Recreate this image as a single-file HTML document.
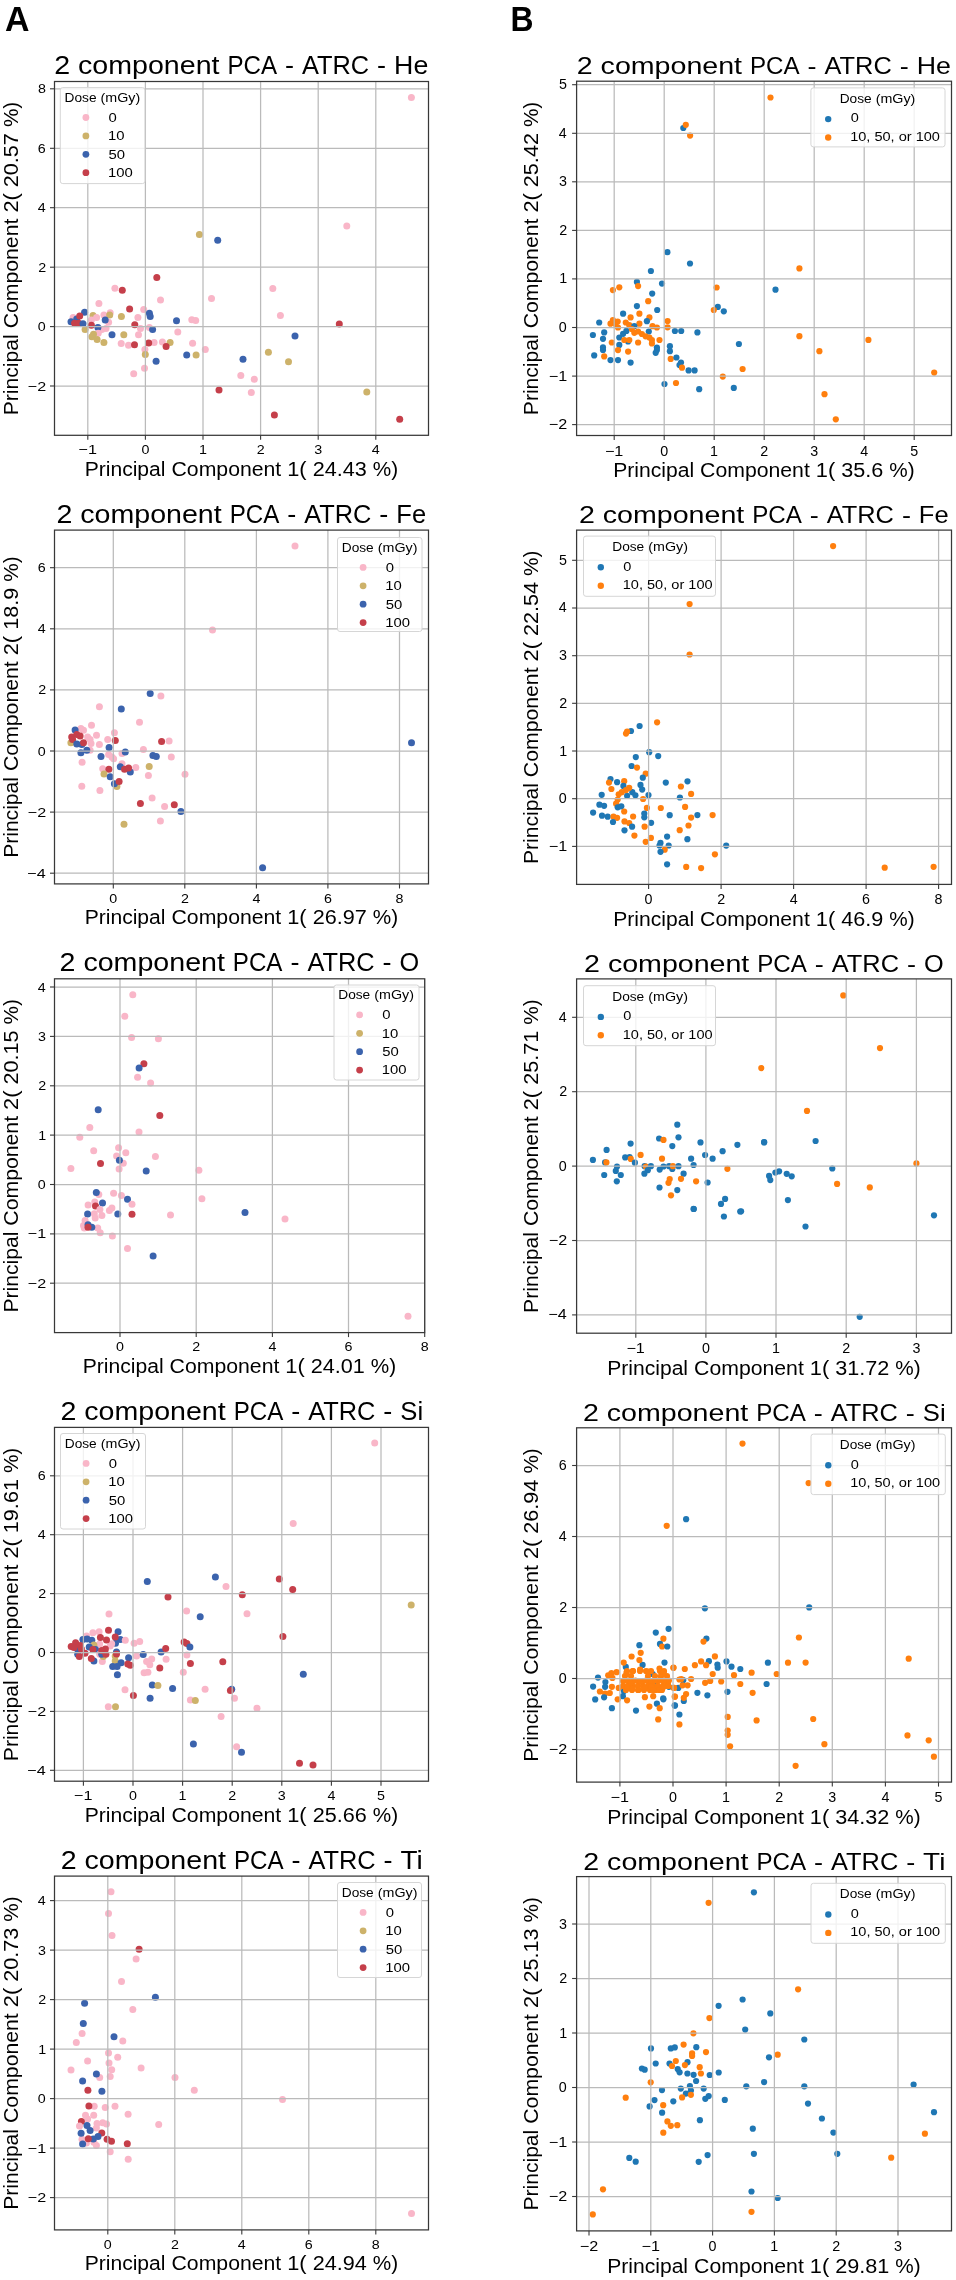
<!DOCTYPE html><html><head><meta charset="utf-8"><style>html,body{margin:0;padding:0;background:#fff;}svg{display:block;will-change:transform;}text{font-family:"Liberation Sans", sans-serif;fill:#000;}</style></head><body>
<svg width="956" height="2280" viewBox="0 0 956 2280">
<rect x="0" y="0" width="956" height="2280" fill="#fff"/>
<text x="5.0" y="31.0" textLength="24.5" lengthAdjust="spacingAndGlyphs" style="font-weight:bold;font-size:35px">A</text>
<text x="510.5" y="31.0" textLength="23.0" lengthAdjust="spacingAndGlyphs" style="font-weight:bold;font-size:35px">B</text>
<g><circle cx="98.9" cy="303.4" r="3.5" fill="#f9b6c8"/><circle cx="129.6" cy="308.9" r="3.5" fill="#c53f4a"/><circle cx="143.7" cy="309.6" r="3.5" fill="#f9b6c8"/><circle cx="84.6" cy="312.3" r="3.5" fill="#3b63ad"/><circle cx="73.1" cy="317.5" r="3.5" fill="#f9b6c8"/><circle cx="76.7" cy="319.0" r="3.5" fill="#3b63ad"/><circle cx="79.7" cy="315.9" r="3.5" fill="#c53f4a"/><circle cx="93.0" cy="315.4" r="3.5" fill="#cdb26a"/><circle cx="96.6" cy="317.5" r="3.5" fill="#f9b6c8"/><circle cx="103.9" cy="314.9" r="3.5" fill="#f9b6c8"/><circle cx="110.2" cy="312.8" r="3.5" fill="#f9b6c8"/><circle cx="109.7" cy="315.1" r="3.5" fill="#cdb26a"/><circle cx="121.4" cy="316.4" r="3.5" fill="#cdb26a"/><circle cx="137.9" cy="317.5" r="3.5" fill="#f9b6c8"/><circle cx="149.4" cy="313.3" r="3.5" fill="#3b63ad"/><circle cx="150.2" cy="316.4" r="3.5" fill="#3b63ad"/><circle cx="108.6" cy="322.2" r="3.5" fill="#f9b6c8"/><circle cx="91.4" cy="320.1" r="3.5" fill="#f9b6c8"/><circle cx="105.2" cy="320.1" r="3.5" fill="#3b63ad"/><circle cx="71.0" cy="321.7" r="3.5" fill="#3b63ad"/><circle cx="74.6" cy="323.2" r="3.5" fill="#c53f4a"/><circle cx="78.8" cy="323.2" r="3.5" fill="#c53f4a"/><circle cx="83.0" cy="323.8" r="3.5" fill="#3b63ad"/><circle cx="91.4" cy="325.3" r="3.5" fill="#c53f4a"/><circle cx="101.8" cy="329.5" r="3.5" fill="#f9b6c8"/><circle cx="106.0" cy="328.5" r="3.5" fill="#f9b6c8"/><circle cx="97.9" cy="327.4" r="3.5" fill="#3b63ad"/><circle cx="134.8" cy="324.8" r="3.5" fill="#c53f4a"/><circle cx="140.5" cy="328.5" r="3.5" fill="#f9b6c8"/><circle cx="149.4" cy="327.4" r="3.5" fill="#f9b6c8"/><circle cx="152.6" cy="329.5" r="3.5" fill="#3b63ad"/><circle cx="85.1" cy="329.5" r="3.5" fill="#cdb26a"/><circle cx="98.2" cy="333.2" r="3.5" fill="#f9b6c8"/><circle cx="93.5" cy="334.2" r="3.5" fill="#cdb26a"/><circle cx="91.9" cy="336.8" r="3.5" fill="#cdb26a"/><circle cx="97.1" cy="339.5" r="3.5" fill="#cdb26a"/><circle cx="103.9" cy="342.6" r="3.5" fill="#cdb26a"/><circle cx="112.0" cy="334.7" r="3.5" fill="#3b63ad"/><circle cx="123.8" cy="334.7" r="3.5" fill="#cdb26a"/><circle cx="138.5" cy="334.7" r="3.5" fill="#f9b6c8"/><circle cx="121.2" cy="343.6" r="3.5" fill="#f9b6c8"/><circle cx="128.5" cy="345.2" r="3.5" fill="#f9b6c8"/><circle cx="134.5" cy="344.7" r="3.5" fill="#c53f4a"/><circle cx="154.1" cy="342.6" r="3.5" fill="#f9b6c8"/><circle cx="148.7" cy="342.9" r="3.5" fill="#c53f4a"/><circle cx="144.9" cy="349.4" r="3.5" fill="#f9b6c8"/><circle cx="145.3" cy="354.5" r="3.5" fill="#cdb26a"/><circle cx="160.5" cy="299.9" r="3.5" fill="#f9b6c8"/><circle cx="156.8" cy="277.6" r="3.5" fill="#c53f4a"/><circle cx="114.9" cy="288.2" r="3.5" fill="#f9b6c8"/><circle cx="122.3" cy="290.2" r="3.5" fill="#c53f4a"/><circle cx="211.5" cy="298.5" r="3.5" fill="#f9b6c8"/><circle cx="176.5" cy="320.8" r="3.5" fill="#3b63ad"/><circle cx="191.8" cy="319.8" r="3.5" fill="#f9b6c8"/><circle cx="195.7" cy="320.6" r="3.5" fill="#f9b6c8"/><circle cx="177.8" cy="332.0" r="3.5" fill="#f9b6c8"/><circle cx="162.4" cy="342.1" r="3.5" fill="#f9b6c8"/><circle cx="170.1" cy="342.6" r="3.5" fill="#cdb26a"/><circle cx="166.1" cy="346.4" r="3.5" fill="#c53f4a"/><circle cx="192.6" cy="343.2" r="3.5" fill="#f9b6c8"/><circle cx="205.3" cy="349.6" r="3.5" fill="#f9b6c8"/><circle cx="156.1" cy="361.3" r="3.5" fill="#3b63ad"/><circle cx="186.7" cy="354.9" r="3.5" fill="#3b63ad"/><circle cx="196.1" cy="354.9" r="3.5" fill="#cdb26a"/><circle cx="144.5" cy="368.3" r="3.5" fill="#f9b6c8"/><circle cx="133.7" cy="373.8" r="3.5" fill="#f9b6c8"/><circle cx="411.4" cy="97.5" r="3.5" fill="#f9b6c8"/><circle cx="346.8" cy="225.9" r="3.5" fill="#f9b6c8"/><circle cx="199.4" cy="234.5" r="3.5" fill="#cdb26a"/><circle cx="217.7" cy="240.3" r="3.5" fill="#3b63ad"/><circle cx="272.8" cy="288.4" r="3.5" fill="#f9b6c8"/><circle cx="280.4" cy="315.4" r="3.5" fill="#f9b6c8"/><circle cx="339.3" cy="324.0" r="3.5" fill="#c53f4a"/><circle cx="295.0" cy="335.9" r="3.5" fill="#3b63ad"/><circle cx="268.4" cy="352.2" r="3.5" fill="#cdb26a"/><circle cx="243.0" cy="359.3" r="3.5" fill="#3b63ad"/><circle cx="288.5" cy="361.8" r="3.5" fill="#cdb26a"/><circle cx="240.8" cy="375.6" r="3.5" fill="#f9b6c8"/><circle cx="254.3" cy="379.3" r="3.5" fill="#f9b6c8"/><circle cx="251.3" cy="392.4" r="3.5" fill="#f9b6c8"/><circle cx="366.8" cy="391.9" r="3.5" fill="#cdb26a"/><circle cx="274.4" cy="415.0" r="3.5" fill="#c53f4a"/><circle cx="399.7" cy="419.3" r="3.5" fill="#c53f4a"/><circle cx="219.0" cy="390.0" r="3.5" fill="#c53f4a"/></g>
<g stroke="#bababa" stroke-width="1.25"><line x1="87.8" y1="81.5" x2="87.8" y2="435.3"/><line x1="145.4" y1="81.5" x2="145.4" y2="435.3"/><line x1="203.0" y1="81.5" x2="203.0" y2="435.3"/><line x1="260.6" y1="81.5" x2="260.6" y2="435.3"/><line x1="318.2" y1="81.5" x2="318.2" y2="435.3"/><line x1="375.8" y1="81.5" x2="375.8" y2="435.3"/><line x1="54.5" y1="88.8" x2="428.5" y2="88.8"/><line x1="54.5" y1="148.3" x2="428.5" y2="148.3"/><line x1="54.5" y1="207.7" x2="428.5" y2="207.7"/><line x1="54.5" y1="267.2" x2="428.5" y2="267.2"/><line x1="54.5" y1="326.6" x2="428.5" y2="326.6"/><line x1="54.5" y1="386.0" x2="428.5" y2="386.0"/></g>
<rect x="60.3" y="87.6" width="84.6" height="96.0" rx="2.5" fill="#fff" fill-opacity="0.8" stroke="#d6d6d6" stroke-width="1"/>
<g style="font-size:13.60px;"><text x="64.55" y="102.00" textLength="31.98" lengthAdjust="spacingAndGlyphs">Dose</text><text x="100.57" y="102.00" textLength="39.64" lengthAdjust="spacingAndGlyphs">(mGy)</text></g>
<circle cx="85.9" cy="117.5" r="3.4" fill="#f9b6c8"/>
<g style="font-size:13.60px;"><text x="108.64" y="121.80" textLength="8.27" lengthAdjust="spacingAndGlyphs">0</text></g>
<circle cx="85.9" cy="135.9" r="3.4" fill="#cdb26a"/>
<g style="font-size:13.60px;"><text x="108.07" y="140.20" textLength="16.54" lengthAdjust="spacingAndGlyphs">10</text></g>
<circle cx="85.9" cy="154.3" r="3.4" fill="#3b63ad"/>
<g style="font-size:13.60px;"><text x="108.50" y="158.60" textLength="16.54" lengthAdjust="spacingAndGlyphs">50</text></g>
<circle cx="85.9" cy="172.7" r="3.4" fill="#c53f4a"/>
<g style="font-size:13.60px;"><text x="108.07" y="177.00" textLength="24.81" lengthAdjust="spacingAndGlyphs">100</text></g>
<rect x="54.5" y="81.5" width="374.0" height="353.8" fill="none" stroke="#383838" stroke-width="1.25"/>
<g stroke="#383838" stroke-width="1.1"><line x1="87.8" y1="435.3" x2="87.8" y2="439.8"/><line x1="145.4" y1="435.3" x2="145.4" y2="439.8"/><line x1="203.0" y1="435.3" x2="203.0" y2="439.8"/><line x1="260.6" y1="435.3" x2="260.6" y2="439.8"/><line x1="318.2" y1="435.3" x2="318.2" y2="439.8"/><line x1="375.8" y1="435.3" x2="375.8" y2="439.8"/><line x1="50.0" y1="88.8" x2="54.5" y2="88.8"/><line x1="50.0" y1="148.3" x2="54.5" y2="148.3"/><line x1="50.0" y1="207.7" x2="54.5" y2="207.7"/><line x1="50.0" y1="267.2" x2="54.5" y2="267.2"/><line x1="50.0" y1="326.6" x2="54.5" y2="326.6"/><line x1="50.0" y1="386.0" x2="54.5" y2="386.0"/></g>
<g style="font-size:13.30px;"><text x="78.50" y="453.90" textLength="18.43" lengthAdjust="spacingAndGlyphs">−1</text></g>
<g style="font-size:13.30px;"><text x="141.43" y="453.90" textLength="7.95" lengthAdjust="spacingAndGlyphs">0</text></g>
<g style="font-size:13.30px;"><text x="198.91" y="453.90" textLength="7.95" lengthAdjust="spacingAndGlyphs">1</text></g>
<g style="font-size:13.30px;"><text x="256.79" y="453.90" textLength="7.95" lengthAdjust="spacingAndGlyphs">2</text></g>
<g style="font-size:13.30px;"><text x="314.25" y="453.90" textLength="7.95" lengthAdjust="spacingAndGlyphs">3</text></g>
<g style="font-size:13.30px;"><text x="371.87" y="453.90" textLength="7.95" lengthAdjust="spacingAndGlyphs">4</text></g>
<g style="font-size:13.30px;"><text x="37.90" y="93.34" textLength="7.95" lengthAdjust="spacingAndGlyphs">8</text></g>
<g style="font-size:13.30px;"><text x="37.83" y="152.78" textLength="7.95" lengthAdjust="spacingAndGlyphs">6</text></g>
<g style="font-size:13.30px;"><text x="37.75" y="212.22" textLength="7.95" lengthAdjust="spacingAndGlyphs">4</text></g>
<g style="font-size:13.30px;"><text x="38.30" y="271.66" textLength="7.95" lengthAdjust="spacingAndGlyphs">2</text></g>
<g style="font-size:13.30px;"><text x="37.88" y="331.10" textLength="7.95" lengthAdjust="spacingAndGlyphs">0</text></g>
<g style="font-size:13.30px;"><text x="27.82" y="390.54" textLength="18.43" lengthAdjust="spacingAndGlyphs">−2</text></g>
<g style="font-size:25.80px;"><text x="54.21" y="74.00" textLength="15.91" lengthAdjust="spacingAndGlyphs">2</text><text x="78.07" y="74.00" textLength="141.43" lengthAdjust="spacingAndGlyphs">component</text><text x="227.44" y="74.00" textLength="49.63" lengthAdjust="spacingAndGlyphs">PCA</text><text x="285.02" y="74.00" textLength="9.02" lengthAdjust="spacingAndGlyphs">-</text><text x="301.99" y="74.00" textLength="67.20" lengthAdjust="spacingAndGlyphs">ATRC</text><text x="377.14" y="74.00" textLength="9.02" lengthAdjust="spacingAndGlyphs">-</text><text x="394.11" y="74.00" textLength="34.18" lengthAdjust="spacingAndGlyphs">He</text></g>
<g style="font-size:20.00px;"><text x="84.65" y="475.80" textLength="80.87" lengthAdjust="spacingAndGlyphs">Principal</text><text x="171.53" y="475.80" textLength="109.73" lengthAdjust="spacingAndGlyphs">Component</text><text x="287.26" y="475.80" textLength="19.40" lengthAdjust="spacingAndGlyphs">1(</text><text x="312.67" y="475.80" textLength="54.11" lengthAdjust="spacingAndGlyphs">24.43</text><text x="372.78" y="475.80" textLength="25.33" lengthAdjust="spacingAndGlyphs">%)</text></g>
<g transform="translate(18.00,0) rotate(-90)" style="font-size:20.00px"><text x="-415.25" y="0" textLength="80.87" lengthAdjust="spacingAndGlyphs">Principal</text><text x="-328.37" y="0" textLength="109.73" lengthAdjust="spacingAndGlyphs">Component</text><text x="-212.64" y="0" textLength="19.40" lengthAdjust="spacingAndGlyphs">2(</text><text x="-187.23" y="0" textLength="54.11" lengthAdjust="spacingAndGlyphs">20.57</text><text x="-127.12" y="0" textLength="25.33" lengthAdjust="spacingAndGlyphs">%)</text></g>
<g><circle cx="160.9" cy="695.9" r="3.5" fill="#f9b6c8"/><circle cx="150.2" cy="693.4" r="3.5" fill="#3b63ad"/><circle cx="99.4" cy="706.8" r="3.5" fill="#f9b6c8"/><circle cx="121.3" cy="709.0" r="3.5" fill="#3b63ad"/><circle cx="139.5" cy="722.3" r="3.5" fill="#f9b6c8"/><circle cx="91.5" cy="725.2" r="3.5" fill="#f9b6c8"/><circle cx="80.9" cy="728.5" r="3.5" fill="#f9b6c8"/><circle cx="83.5" cy="730.2" r="3.5" fill="#f9b6c8"/><circle cx="75.1" cy="729.9" r="3.5" fill="#3b63ad"/><circle cx="96.5" cy="735.2" r="3.5" fill="#f9b6c8"/><circle cx="114.4" cy="732.7" r="3.5" fill="#f9b6c8"/><circle cx="87.6" cy="736.9" r="3.5" fill="#f9b6c8"/><circle cx="90.1" cy="739.4" r="3.5" fill="#f9b6c8"/><circle cx="70.9" cy="742.8" r="3.5" fill="#cdb26a"/><circle cx="71.7" cy="736.9" r="3.5" fill="#c53f4a"/><circle cx="76.8" cy="734.4" r="3.5" fill="#c53f4a"/><circle cx="80.1" cy="736.1" r="3.5" fill="#c53f4a"/><circle cx="72.6" cy="739.4" r="3.5" fill="#c53f4a"/><circle cx="91.0" cy="743.6" r="3.5" fill="#f9b6c8"/><circle cx="99.4" cy="744.4" r="3.5" fill="#f9b6c8"/><circle cx="107.7" cy="739.4" r="3.5" fill="#f9b6c8"/><circle cx="76.8" cy="744.1" r="3.5" fill="#3b63ad"/><circle cx="81.8" cy="744.4" r="3.5" fill="#3b63ad"/><circle cx="83.5" cy="742.8" r="3.5" fill="#c53f4a"/><circle cx="115.3" cy="740.6" r="3.5" fill="#c53f4a"/><circle cx="90.1" cy="750.3" r="3.5" fill="#f9b6c8"/><circle cx="109.1" cy="747.4" r="3.5" fill="#3b63ad"/><circle cx="86.8" cy="750.3" r="3.5" fill="#3b63ad"/><circle cx="80.9" cy="752.8" r="3.5" fill="#3b63ad"/><circle cx="108.6" cy="754.5" r="3.5" fill="#f9b6c8"/><circle cx="111.9" cy="757.0" r="3.5" fill="#f9b6c8"/><circle cx="113.6" cy="758.7" r="3.5" fill="#f9b6c8"/><circle cx="122.0" cy="753.6" r="3.5" fill="#f9b6c8"/><circle cx="101.0" cy="756.5" r="3.5" fill="#3b63ad"/><circle cx="125.3" cy="752.0" r="3.5" fill="#3b63ad"/><circle cx="143.4" cy="749.5" r="3.5" fill="#f9b6c8"/><circle cx="169.1" cy="741.1" r="3.5" fill="#f9b6c8"/><circle cx="161.6" cy="741.4" r="3.5" fill="#c53f4a"/><circle cx="171.3" cy="757.0" r="3.5" fill="#f9b6c8"/><circle cx="152.9" cy="755.6" r="3.5" fill="#3b63ad"/><circle cx="156.3" cy="756.5" r="3.5" fill="#3b63ad"/><circle cx="82.1" cy="762.3" r="3.5" fill="#f9b6c8"/><circle cx="122.0" cy="763.7" r="3.5" fill="#f9b6c8"/><circle cx="135.8" cy="767.4" r="3.5" fill="#f9b6c8"/><circle cx="102.7" cy="768.7" r="3.5" fill="#f9b6c8"/><circle cx="120.3" cy="766.7" r="3.5" fill="#3b63ad"/><circle cx="130.3" cy="772.0" r="3.5" fill="#3b63ad"/><circle cx="124.5" cy="769.2" r="3.5" fill="#c53f4a"/><circle cx="128.6" cy="767.9" r="3.5" fill="#c53f4a"/><circle cx="149.2" cy="766.5" r="3.5" fill="#cdb26a"/><circle cx="108.9" cy="769.2" r="3.5" fill="#c53f4a"/><circle cx="104.0" cy="774.1" r="3.5" fill="#cdb26a"/><circle cx="110.2" cy="776.7" r="3.5" fill="#3b63ad"/><circle cx="148.4" cy="775.4" r="3.5" fill="#f9b6c8"/><circle cx="185.0" cy="774.2" r="3.5" fill="#f9b6c8"/><circle cx="116.9" cy="786.6" r="3.5" fill="#cdb26a"/><circle cx="114.4" cy="783.8" r="3.5" fill="#3b63ad"/><circle cx="119.1" cy="781.4" r="3.5" fill="#c53f4a"/><circle cx="81.8" cy="786.3" r="3.5" fill="#f9b6c8"/><circle cx="99.9" cy="790.5" r="3.5" fill="#f9b6c8"/><circle cx="152.1" cy="798.0" r="3.5" fill="#f9b6c8"/><circle cx="140.4" cy="803.5" r="3.5" fill="#c53f4a"/><circle cx="164.6" cy="806.4" r="3.5" fill="#f9b6c8"/><circle cx="174.3" cy="804.7" r="3.5" fill="#c53f4a"/><circle cx="180.9" cy="811.4" r="3.5" fill="#3b63ad"/><circle cx="160.4" cy="821.1" r="3.5" fill="#f9b6c8"/><circle cx="124.0" cy="824.3" r="3.5" fill="#cdb26a"/><circle cx="295.0" cy="546.0" r="3.5" fill="#f9b6c8"/><circle cx="212.5" cy="630.0" r="3.5" fill="#f9b6c8"/><circle cx="411.5" cy="742.7" r="3.5" fill="#3b63ad"/><circle cx="262.6" cy="867.7" r="3.5" fill="#3b63ad"/></g>
<g stroke="#bababa" stroke-width="1.25"><line x1="113.3" y1="530.1" x2="113.3" y2="884.0"/><line x1="184.8" y1="530.1" x2="184.8" y2="884.0"/><line x1="256.4" y1="530.1" x2="256.4" y2="884.0"/><line x1="327.9" y1="530.1" x2="327.9" y2="884.0"/><line x1="399.5" y1="530.1" x2="399.5" y2="884.0"/><line x1="54.5" y1="567.7" x2="428.5" y2="567.7"/><line x1="54.5" y1="628.8" x2="428.5" y2="628.8"/><line x1="54.5" y1="689.9" x2="428.5" y2="689.9"/><line x1="54.5" y1="751.0" x2="428.5" y2="751.0"/><line x1="54.5" y1="812.1" x2="428.5" y2="812.1"/><line x1="54.5" y1="873.2" x2="428.5" y2="873.2"/></g>
<rect x="337.5" y="537.5" width="84.5" height="94.0" rx="2.5" fill="#fff" fill-opacity="0.8" stroke="#d6d6d6" stroke-width="1"/>
<g style="font-size:13.60px;"><text x="341.75" y="551.90" textLength="31.98" lengthAdjust="spacingAndGlyphs">Dose</text><text x="377.77" y="551.90" textLength="39.64" lengthAdjust="spacingAndGlyphs">(mGy)</text></g>
<circle cx="363.1" cy="567.4" r="3.4" fill="#f9b6c8"/>
<g style="font-size:13.60px;"><text x="385.84" y="571.70" textLength="8.27" lengthAdjust="spacingAndGlyphs">0</text></g>
<circle cx="363.1" cy="585.8" r="3.4" fill="#cdb26a"/>
<g style="font-size:13.60px;"><text x="385.27" y="590.10" textLength="16.54" lengthAdjust="spacingAndGlyphs">10</text></g>
<circle cx="363.1" cy="604.2" r="3.4" fill="#3b63ad"/>
<g style="font-size:13.60px;"><text x="385.70" y="608.50" textLength="16.54" lengthAdjust="spacingAndGlyphs">50</text></g>
<circle cx="363.1" cy="622.6" r="3.4" fill="#c53f4a"/>
<g style="font-size:13.60px;"><text x="385.27" y="626.90" textLength="24.81" lengthAdjust="spacingAndGlyphs">100</text></g>
<rect x="54.5" y="530.1" width="374.0" height="353.8" fill="none" stroke="#383838" stroke-width="1.25"/>
<g stroke="#383838" stroke-width="1.1"><line x1="113.3" y1="884.0" x2="113.3" y2="888.5"/><line x1="184.8" y1="884.0" x2="184.8" y2="888.5"/><line x1="256.4" y1="884.0" x2="256.4" y2="888.5"/><line x1="327.9" y1="884.0" x2="327.9" y2="888.5"/><line x1="399.5" y1="884.0" x2="399.5" y2="888.5"/><line x1="50.0" y1="567.7" x2="54.5" y2="567.7"/><line x1="50.0" y1="628.8" x2="54.5" y2="628.8"/><line x1="50.0" y1="689.9" x2="54.5" y2="689.9"/><line x1="50.0" y1="751.0" x2="54.5" y2="751.0"/><line x1="50.0" y1="812.1" x2="54.5" y2="812.1"/><line x1="50.0" y1="873.2" x2="54.5" y2="873.2"/></g>
<g style="font-size:13.30px;"><text x="109.33" y="902.55" textLength="7.95" lengthAdjust="spacingAndGlyphs">0</text></g>
<g style="font-size:13.30px;"><text x="181.03" y="902.55" textLength="7.95" lengthAdjust="spacingAndGlyphs">2</text></g>
<g style="font-size:13.30px;"><text x="252.45" y="902.55" textLength="7.95" lengthAdjust="spacingAndGlyphs">4</text></g>
<g style="font-size:13.30px;"><text x="323.90" y="902.55" textLength="7.95" lengthAdjust="spacingAndGlyphs">6</text></g>
<g style="font-size:13.30px;"><text x="395.49" y="902.55" textLength="7.95" lengthAdjust="spacingAndGlyphs">8</text></g>
<g style="font-size:13.30px;"><text x="37.83" y="572.20" textLength="7.95" lengthAdjust="spacingAndGlyphs">6</text></g>
<g style="font-size:13.30px;"><text x="37.75" y="633.30" textLength="7.95" lengthAdjust="spacingAndGlyphs">4</text></g>
<g style="font-size:13.30px;"><text x="38.30" y="694.40" textLength="7.95" lengthAdjust="spacingAndGlyphs">2</text></g>
<g style="font-size:13.30px;"><text x="37.88" y="755.50" textLength="7.95" lengthAdjust="spacingAndGlyphs">0</text></g>
<g style="font-size:13.30px;"><text x="27.82" y="816.60" textLength="18.43" lengthAdjust="spacingAndGlyphs">−2</text></g>
<g style="font-size:13.30px;"><text x="27.28" y="877.70" textLength="18.43" lengthAdjust="spacingAndGlyphs">−4</text></g>
<g style="font-size:25.80px;"><text x="56.42" y="522.65" textLength="15.91" lengthAdjust="spacingAndGlyphs">2</text><text x="80.28" y="522.65" textLength="141.43" lengthAdjust="spacingAndGlyphs">component</text><text x="229.65" y="522.65" textLength="49.63" lengthAdjust="spacingAndGlyphs">PCA</text><text x="287.23" y="522.65" textLength="9.02" lengthAdjust="spacingAndGlyphs">-</text><text x="304.20" y="522.65" textLength="67.20" lengthAdjust="spacingAndGlyphs">ATRC</text><text x="379.35" y="522.65" textLength="9.02" lengthAdjust="spacingAndGlyphs">-</text><text x="396.32" y="522.65" textLength="29.76" lengthAdjust="spacingAndGlyphs">Fe</text></g>
<g style="font-size:20.00px;"><text x="84.65" y="924.45" textLength="80.87" lengthAdjust="spacingAndGlyphs">Principal</text><text x="171.53" y="924.45" textLength="109.73" lengthAdjust="spacingAndGlyphs">Component</text><text x="287.26" y="924.45" textLength="19.40" lengthAdjust="spacingAndGlyphs">1(</text><text x="312.67" y="924.45" textLength="54.11" lengthAdjust="spacingAndGlyphs">26.97</text><text x="372.78" y="924.45" textLength="25.33" lengthAdjust="spacingAndGlyphs">%)</text></g>
<g transform="translate(18.00,0) rotate(-90)" style="font-size:20.00px"><text x="-857.89" y="0" textLength="80.87" lengthAdjust="spacingAndGlyphs">Principal</text><text x="-771.01" y="0" textLength="109.73" lengthAdjust="spacingAndGlyphs">Component</text><text x="-655.27" y="0" textLength="19.40" lengthAdjust="spacingAndGlyphs">2(</text><text x="-629.87" y="0" textLength="42.08" lengthAdjust="spacingAndGlyphs">18.9</text><text x="-581.78" y="0" textLength="25.33" lengthAdjust="spacingAndGlyphs">%)</text></g>
<g><circle cx="132.8" cy="994.7" r="3.5" fill="#f9b6c8"/><circle cx="124.8" cy="1016.3" r="3.5" fill="#f9b6c8"/><circle cx="131.6" cy="1037.4" r="3.5" fill="#f9b6c8"/><circle cx="158.4" cy="1038.7" r="3.5" fill="#f9b6c8"/><circle cx="143.9" cy="1063.8" r="3.5" fill="#c53f4a"/><circle cx="139.1" cy="1068.0" r="3.5" fill="#3b63ad"/><circle cx="137.6" cy="1077.3" r="3.5" fill="#f9b6c8"/><circle cx="150.6" cy="1083.1" r="3.5" fill="#f9b6c8"/><circle cx="98.2" cy="1109.7" r="3.5" fill="#3b63ad"/><circle cx="159.8" cy="1115.4" r="3.5" fill="#c53f4a"/><circle cx="89.8" cy="1127.6" r="3.5" fill="#f9b6c8"/><circle cx="139.0" cy="1132.1" r="3.5" fill="#f9b6c8"/><circle cx="79.8" cy="1137.2" r="3.5" fill="#f9b6c8"/><circle cx="93.7" cy="1150.7" r="3.5" fill="#f9b6c8"/><circle cx="118.6" cy="1147.7" r="3.5" fill="#f9b6c8"/><circle cx="125.8" cy="1152.7" r="3.5" fill="#f9b6c8"/><circle cx="116.6" cy="1156.1" r="3.5" fill="#f9b6c8"/><circle cx="155.4" cy="1156.4" r="3.5" fill="#f9b6c8"/><circle cx="123.3" cy="1163.3" r="3.5" fill="#f9b6c8"/><circle cx="119.4" cy="1160.3" r="3.5" fill="#3b63ad"/><circle cx="100.5" cy="1163.6" r="3.5" fill="#c53f4a"/><circle cx="70.9" cy="1168.6" r="3.5" fill="#f9b6c8"/><circle cx="119.1" cy="1169.0" r="3.5" fill="#f9b6c8"/><circle cx="146.2" cy="1171.0" r="3.5" fill="#3b63ad"/><circle cx="198.9" cy="1170.3" r="3.5" fill="#f9b6c8"/><circle cx="98.8" cy="1194.6" r="3.5" fill="#f9b6c8"/><circle cx="96.3" cy="1192.4" r="3.5" fill="#3b63ad"/><circle cx="113.6" cy="1193.2" r="3.5" fill="#f9b6c8"/><circle cx="121.4" cy="1195.4" r="3.5" fill="#f9b6c8"/><circle cx="127.5" cy="1199.2" r="3.5" fill="#3b63ad"/><circle cx="132.0" cy="1204.3" r="3.5" fill="#f9b6c8"/><circle cx="201.9" cy="1198.7" r="3.5" fill="#f9b6c8"/><circle cx="94.8" cy="1202.1" r="3.5" fill="#f9b6c8"/><circle cx="88.1" cy="1204.9" r="3.5" fill="#f9b6c8"/><circle cx="102.5" cy="1202.9" r="3.5" fill="#3b63ad"/><circle cx="95.5" cy="1205.9" r="3.5" fill="#c53f4a"/><circle cx="111.9" cy="1208.0" r="3.5" fill="#f9b6c8"/><circle cx="109.4" cy="1210.5" r="3.5" fill="#f9b6c8"/><circle cx="99.9" cy="1209.6" r="3.5" fill="#f9b6c8"/><circle cx="101.9" cy="1215.5" r="3.5" fill="#f9b6c8"/><circle cx="94.3" cy="1213.8" r="3.5" fill="#f9b6c8"/><circle cx="95.2" cy="1218.0" r="3.5" fill="#f9b6c8"/><circle cx="87.6" cy="1214.1" r="3.5" fill="#3b63ad"/><circle cx="117.8" cy="1214.1" r="3.5" fill="#3b63ad"/><circle cx="132.0" cy="1214.3" r="3.5" fill="#c53f4a"/><circle cx="170.5" cy="1215.1" r="3.5" fill="#f9b6c8"/><circle cx="85.1" cy="1220.5" r="3.5" fill="#f9b6c8"/><circle cx="83.5" cy="1225.5" r="3.5" fill="#f9b6c8"/><circle cx="84.3" cy="1228.0" r="3.5" fill="#f9b6c8"/><circle cx="97.7" cy="1228.0" r="3.5" fill="#f9b6c8"/><circle cx="100.2" cy="1232.7" r="3.5" fill="#f9b6c8"/><circle cx="88.0" cy="1224.7" r="3.5" fill="#3b63ad"/><circle cx="91.8" cy="1227.2" r="3.5" fill="#3b63ad"/><circle cx="88.0" cy="1227.2" r="3.5" fill="#c53f4a"/><circle cx="112.4" cy="1235.9" r="3.5" fill="#f9b6c8"/><circle cx="127.5" cy="1248.6" r="3.5" fill="#f9b6c8"/><circle cx="153.1" cy="1256.0" r="3.5" fill="#3b63ad"/><circle cx="245.0" cy="1212.5" r="3.5" fill="#3b63ad"/><circle cx="285.0" cy="1219.0" r="3.5" fill="#f9b6c8"/><circle cx="408.0" cy="1316.3" r="3.5" fill="#f9b6c8"/></g>
<g stroke="#bababa" stroke-width="1.25"><line x1="120.0" y1="978.8" x2="120.0" y2="1332.6"/><line x1="196.2" y1="978.8" x2="196.2" y2="1332.6"/><line x1="272.4" y1="978.8" x2="272.4" y2="1332.6"/><line x1="348.5" y1="978.8" x2="348.5" y2="1332.6"/><line x1="424.7" y1="978.8" x2="424.7" y2="1332.6"/><line x1="54.5" y1="987.0" x2="424.7" y2="987.0"/><line x1="54.5" y1="1036.4" x2="424.7" y2="1036.4"/><line x1="54.5" y1="1085.8" x2="424.7" y2="1085.8"/><line x1="54.5" y1="1135.1" x2="424.7" y2="1135.1"/><line x1="54.5" y1="1184.5" x2="424.7" y2="1184.5"/><line x1="54.5" y1="1233.9" x2="424.7" y2="1233.9"/><line x1="54.5" y1="1283.2" x2="424.7" y2="1283.2"/></g>
<rect x="334.0" y="985.0" width="85.0" height="95.0" rx="2.5" fill="#fff" fill-opacity="0.8" stroke="#d6d6d6" stroke-width="1"/>
<g style="font-size:13.60px;"><text x="338.25" y="999.40" textLength="31.98" lengthAdjust="spacingAndGlyphs">Dose</text><text x="374.27" y="999.40" textLength="39.64" lengthAdjust="spacingAndGlyphs">(mGy)</text></g>
<circle cx="359.6" cy="1014.9" r="3.4" fill="#f9b6c8"/>
<g style="font-size:13.60px;"><text x="382.34" y="1019.20" textLength="8.27" lengthAdjust="spacingAndGlyphs">0</text></g>
<circle cx="359.6" cy="1033.3" r="3.4" fill="#cdb26a"/>
<g style="font-size:13.60px;"><text x="381.77" y="1037.60" textLength="16.54" lengthAdjust="spacingAndGlyphs">10</text></g>
<circle cx="359.6" cy="1051.7" r="3.4" fill="#3b63ad"/>
<g style="font-size:13.60px;"><text x="382.20" y="1056.00" textLength="16.54" lengthAdjust="spacingAndGlyphs">50</text></g>
<circle cx="359.6" cy="1070.1" r="3.4" fill="#c53f4a"/>
<g style="font-size:13.60px;"><text x="381.77" y="1074.40" textLength="24.81" lengthAdjust="spacingAndGlyphs">100</text></g>
<rect x="54.5" y="978.8" width="370.2" height="353.8" fill="none" stroke="#383838" stroke-width="1.25"/>
<g stroke="#383838" stroke-width="1.1"><line x1="120.0" y1="1332.6" x2="120.0" y2="1337.1"/><line x1="196.2" y1="1332.6" x2="196.2" y2="1337.1"/><line x1="272.4" y1="1332.6" x2="272.4" y2="1337.1"/><line x1="348.5" y1="1332.6" x2="348.5" y2="1337.1"/><line x1="424.7" y1="1332.6" x2="424.7" y2="1337.1"/><line x1="50.0" y1="987.0" x2="54.5" y2="987.0"/><line x1="50.0" y1="1036.4" x2="54.5" y2="1036.4"/><line x1="50.0" y1="1085.8" x2="54.5" y2="1085.8"/><line x1="50.0" y1="1135.1" x2="54.5" y2="1135.1"/><line x1="50.0" y1="1184.5" x2="54.5" y2="1184.5"/><line x1="50.0" y1="1233.9" x2="54.5" y2="1233.9"/><line x1="50.0" y1="1283.2" x2="54.5" y2="1283.2"/></g>
<g style="font-size:13.30px;"><text x="116.03" y="1351.20" textLength="7.95" lengthAdjust="spacingAndGlyphs">0</text></g>
<g style="font-size:13.30px;"><text x="192.37" y="1351.20" textLength="7.95" lengthAdjust="spacingAndGlyphs">2</text></g>
<g style="font-size:13.30px;"><text x="268.43" y="1351.20" textLength="7.95" lengthAdjust="spacingAndGlyphs">4</text></g>
<g style="font-size:13.30px;"><text x="344.52" y="1351.20" textLength="7.95" lengthAdjust="spacingAndGlyphs">6</text></g>
<g style="font-size:13.30px;"><text x="420.75" y="1351.20" textLength="7.95" lengthAdjust="spacingAndGlyphs">8</text></g>
<g style="font-size:13.30px;"><text x="37.75" y="991.52" textLength="7.95" lengthAdjust="spacingAndGlyphs">4</text></g>
<g style="font-size:13.30px;"><text x="38.05" y="1040.89" textLength="7.95" lengthAdjust="spacingAndGlyphs">3</text></g>
<g style="font-size:13.30px;"><text x="38.30" y="1090.26" textLength="7.95" lengthAdjust="spacingAndGlyphs">2</text></g>
<g style="font-size:13.30px;"><text x="38.20" y="1139.63" textLength="7.95" lengthAdjust="spacingAndGlyphs">1</text></g>
<g style="font-size:13.30px;"><text x="37.88" y="1189.00" textLength="7.95" lengthAdjust="spacingAndGlyphs">0</text></g>
<g style="font-size:13.30px;"><text x="27.73" y="1238.37" textLength="18.43" lengthAdjust="spacingAndGlyphs">−1</text></g>
<g style="font-size:13.30px;"><text x="27.82" y="1287.74" textLength="18.43" lengthAdjust="spacingAndGlyphs">−2</text></g>
<g style="font-size:25.80px;"><text x="59.60" y="971.30" textLength="15.91" lengthAdjust="spacingAndGlyphs">2</text><text x="83.45" y="971.30" textLength="141.43" lengthAdjust="spacingAndGlyphs">component</text><text x="232.83" y="971.30" textLength="49.63" lengthAdjust="spacingAndGlyphs">PCA</text><text x="290.41" y="971.30" textLength="9.02" lengthAdjust="spacingAndGlyphs">-</text><text x="307.38" y="971.30" textLength="67.20" lengthAdjust="spacingAndGlyphs">ATRC</text><text x="382.53" y="971.30" textLength="9.02" lengthAdjust="spacingAndGlyphs">-</text><text x="399.49" y="971.30" textLength="19.68" lengthAdjust="spacingAndGlyphs">O</text></g>
<g style="font-size:20.00px;"><text x="82.75" y="1373.10" textLength="80.87" lengthAdjust="spacingAndGlyphs">Principal</text><text x="169.63" y="1373.10" textLength="109.73" lengthAdjust="spacingAndGlyphs">Component</text><text x="285.36" y="1373.10" textLength="19.40" lengthAdjust="spacingAndGlyphs">1(</text><text x="310.77" y="1373.10" textLength="54.11" lengthAdjust="spacingAndGlyphs">24.01</text><text x="370.88" y="1373.10" textLength="25.33" lengthAdjust="spacingAndGlyphs">%)</text></g>
<g transform="translate(18.00,0) rotate(-90)" style="font-size:20.00px"><text x="-1312.55" y="0" textLength="80.87" lengthAdjust="spacingAndGlyphs">Principal</text><text x="-1225.67" y="0" textLength="109.73" lengthAdjust="spacingAndGlyphs">Component</text><text x="-1109.94" y="0" textLength="19.40" lengthAdjust="spacingAndGlyphs">2(</text><text x="-1084.53" y="0" textLength="54.11" lengthAdjust="spacingAndGlyphs">20.15</text><text x="-1024.42" y="0" textLength="25.33" lengthAdjust="spacingAndGlyphs">%)</text></g>
<g><circle cx="374.7" cy="1443.1" r="3.5" fill="#f9b6c8"/><circle cx="293.2" cy="1523.4" r="3.5" fill="#f9b6c8"/><circle cx="147.3" cy="1581.4" r="3.5" fill="#3b63ad"/><circle cx="168.0" cy="1596.9" r="3.5" fill="#c53f4a"/><circle cx="109.0" cy="1614.1" r="3.5" fill="#f9b6c8"/><circle cx="92.9" cy="1632.8" r="3.5" fill="#f9b6c8"/><circle cx="99.1" cy="1631.8" r="3.5" fill="#f9b6c8"/><circle cx="86.6" cy="1636.0" r="3.5" fill="#f9b6c8"/><circle cx="118.1" cy="1631.7" r="3.5" fill="#3b63ad"/><circle cx="82.9" cy="1639.6" r="3.5" fill="#3b63ad"/><circle cx="87.1" cy="1639.1" r="3.5" fill="#3b63ad"/><circle cx="91.8" cy="1640.2" r="3.5" fill="#3b63ad"/><circle cx="120.3" cy="1639.6" r="3.5" fill="#3b63ad"/><circle cx="115.5" cy="1643.3" r="3.5" fill="#3b63ad"/><circle cx="125.3" cy="1640.2" r="3.5" fill="#f9b6c8"/><circle cx="134.1" cy="1643.3" r="3.5" fill="#f9b6c8"/><circle cx="139.7" cy="1641.5" r="3.5" fill="#f9b6c8"/><circle cx="111.7" cy="1643.8" r="3.5" fill="#f9b6c8"/><circle cx="99.6" cy="1644.0" r="3.5" fill="#f9b6c8"/><circle cx="110.2" cy="1645.9" r="3.5" fill="#f9b6c8"/><circle cx="93.9" cy="1645.1" r="3.5" fill="#cdb26a"/><circle cx="89.2" cy="1647.0" r="3.5" fill="#3b63ad"/><circle cx="77.7" cy="1649.6" r="3.5" fill="#3b63ad"/><circle cx="77.7" cy="1654.3" r="3.5" fill="#3b63ad"/><circle cx="95.5" cy="1649.6" r="3.5" fill="#3b63ad"/><circle cx="99.7" cy="1654.3" r="3.5" fill="#f9b6c8"/><circle cx="102.3" cy="1661.6" r="3.5" fill="#f9b6c8"/><circle cx="103.3" cy="1656.4" r="3.5" fill="#cdb26a"/><circle cx="101.7" cy="1654.3" r="3.5" fill="#3b63ad"/><circle cx="116.5" cy="1652.1" r="3.5" fill="#3b63ad"/><circle cx="115.2" cy="1655.9" r="3.5" fill="#cdb26a"/><circle cx="115.2" cy="1660.9" r="3.5" fill="#cdb26a"/><circle cx="93.9" cy="1661.1" r="3.5" fill="#3b63ad"/><circle cx="136.6" cy="1655.9" r="3.5" fill="#f9b6c8"/><circle cx="143.2" cy="1654.6" r="3.5" fill="#3b63ad"/><circle cx="161.1" cy="1652.1" r="3.5" fill="#3b63ad"/><circle cx="165.7" cy="1648.4" r="3.5" fill="#c53f4a"/><circle cx="166.1" cy="1659.3" r="3.5" fill="#f9b6c8"/><circle cx="128.6" cy="1657.8" r="3.5" fill="#3b63ad"/><circle cx="121.1" cy="1662.8" r="3.5" fill="#3b63ad"/><circle cx="112.7" cy="1666.6" r="3.5" fill="#3b63ad"/><circle cx="117.1" cy="1666.6" r="3.5" fill="#3b63ad"/><circle cx="127.8" cy="1664.1" r="3.5" fill="#c53f4a"/><circle cx="130.3" cy="1665.3" r="3.5" fill="#c53f4a"/><circle cx="146.6" cy="1661.5" r="3.5" fill="#f9b6c8"/><circle cx="151.7" cy="1659.0" r="3.5" fill="#f9b6c8"/><circle cx="149.8" cy="1664.7" r="3.5" fill="#f9b6c8"/><circle cx="159.8" cy="1668.1" r="3.5" fill="#c53f4a"/><circle cx="144.1" cy="1672.8" r="3.5" fill="#f9b6c8"/><circle cx="147.9" cy="1672.2" r="3.5" fill="#f9b6c8"/><circle cx="117.4" cy="1674.7" r="3.5" fill="#3b63ad"/><circle cx="152.3" cy="1685.0" r="3.5" fill="#3b63ad"/><circle cx="157.9" cy="1685.4" r="3.5" fill="#cdb26a"/><circle cx="172.6" cy="1688.5" r="3.5" fill="#3b63ad"/><circle cx="125.0" cy="1689.8" r="3.5" fill="#f9b6c8"/><circle cx="133.4" cy="1695.4" r="3.5" fill="#c53f4a"/><circle cx="150.1" cy="1698.2" r="3.5" fill="#3b63ad"/><circle cx="108.3" cy="1706.7" r="3.5" fill="#f9b6c8"/><circle cx="115.5" cy="1706.7" r="3.5" fill="#cdb26a"/><circle cx="215.4" cy="1576.9" r="3.5" fill="#3b63ad"/><circle cx="226.0" cy="1586.4" r="3.5" fill="#f9b6c8"/><circle cx="279.3" cy="1579.0" r="3.5" fill="#c53f4a"/><circle cx="292.7" cy="1589.4" r="3.5" fill="#c53f4a"/><circle cx="242.3" cy="1594.8" r="3.5" fill="#c53f4a"/><circle cx="411.2" cy="1605.1" r="3.5" fill="#cdb26a"/><circle cx="186.6" cy="1610.9" r="3.5" fill="#f9b6c8"/><circle cx="247.0" cy="1613.8" r="3.5" fill="#f9b6c8"/><circle cx="200.2" cy="1616.8" r="3.5" fill="#3b63ad"/><circle cx="282.9" cy="1636.4" r="3.5" fill="#c53f4a"/><circle cx="184.1" cy="1642.1" r="3.5" fill="#c53f4a"/><circle cx="186.9" cy="1643.5" r="3.5" fill="#c53f4a"/><circle cx="189.9" cy="1647.0" r="3.5" fill="#3b63ad"/><circle cx="186.9" cy="1654.9" r="3.5" fill="#f9b6c8"/><circle cx="190.4" cy="1663.6" r="3.5" fill="#c53f4a"/><circle cx="222.8" cy="1661.7" r="3.5" fill="#c53f4a"/><circle cx="183.3" cy="1672.3" r="3.5" fill="#f9b6c8"/><circle cx="303.3" cy="1674.2" r="3.5" fill="#3b63ad"/><circle cx="205.1" cy="1689.2" r="3.5" fill="#f9b6c8"/><circle cx="231.7" cy="1689.2" r="3.5" fill="#3b63ad"/><circle cx="230.4" cy="1690.5" r="3.5" fill="#c53f4a"/><circle cx="234.5" cy="1698.2" r="3.5" fill="#f9b6c8"/><circle cx="190.4" cy="1700.0" r="3.5" fill="#f9b6c8"/><circle cx="195.3" cy="1700.6" r="3.5" fill="#cdb26a"/><circle cx="257.0" cy="1708.2" r="3.5" fill="#f9b6c8"/><circle cx="221.1" cy="1716.4" r="3.5" fill="#f9b6c8"/><circle cx="193.4" cy="1744.1" r="3.5" fill="#3b63ad"/><circle cx="236.6" cy="1746.8" r="3.5" fill="#f9b6c8"/><circle cx="241.5" cy="1752.3" r="3.5" fill="#3b63ad"/><circle cx="299.5" cy="1763.2" r="3.5" fill="#c53f4a"/><circle cx="313.0" cy="1765.1" r="3.5" fill="#c53f4a"/><circle cx="108.5" cy="1630.2" r="3.5" fill="#c53f4a"/><circle cx="100.4" cy="1637.6" r="3.5" fill="#c53f4a"/><circle cx="106.5" cy="1639.9" r="3.5" fill="#c53f4a"/><circle cx="115.2" cy="1637.1" r="3.5" fill="#c53f4a"/><circle cx="75.6" cy="1642.8" r="3.5" fill="#c53f4a"/><circle cx="71.2" cy="1646.4" r="3.5" fill="#c53f4a"/><circle cx="74.0" cy="1647.5" r="3.5" fill="#c53f4a"/><circle cx="80.3" cy="1645.4" r="3.5" fill="#c53f4a"/><circle cx="81.4" cy="1649.1" r="3.5" fill="#c53f4a"/><circle cx="92.9" cy="1649.6" r="3.5" fill="#c53f4a"/><circle cx="105.4" cy="1649.1" r="3.5" fill="#c53f4a"/><circle cx="101.7" cy="1650.6" r="3.5" fill="#c53f4a"/><circle cx="105.9" cy="1654.3" r="3.5" fill="#c53f4a"/><circle cx="85.0" cy="1653.2" r="3.5" fill="#c53f4a"/><circle cx="79.3" cy="1656.4" r="3.5" fill="#c53f4a"/><circle cx="116.5" cy="1654.0" r="3.5" fill="#c53f4a"/><circle cx="91.3" cy="1658.5" r="3.5" fill="#c53f4a"/></g>
<g stroke="#bababa" stroke-width="1.25"><line x1="83.4" y1="1427.4" x2="83.4" y2="1781.2"/><line x1="133.0" y1="1427.4" x2="133.0" y2="1781.2"/><line x1="182.6" y1="1427.4" x2="182.6" y2="1781.2"/><line x1="232.2" y1="1427.4" x2="232.2" y2="1781.2"/><line x1="281.8" y1="1427.4" x2="281.8" y2="1781.2"/><line x1="331.4" y1="1427.4" x2="331.4" y2="1781.2"/><line x1="381.0" y1="1427.4" x2="381.0" y2="1781.2"/><line x1="54.5" y1="1475.8" x2="428.5" y2="1475.8"/><line x1="54.5" y1="1534.7" x2="428.5" y2="1534.7"/><line x1="54.5" y1="1593.6" x2="428.5" y2="1593.6"/><line x1="54.5" y1="1652.5" x2="428.5" y2="1652.5"/><line x1="54.5" y1="1711.4" x2="428.5" y2="1711.4"/><line x1="54.5" y1="1770.3" x2="428.5" y2="1770.3"/></g>
<rect x="60.5" y="1433.5" width="85.0" height="95.5" rx="2.5" fill="#fff" fill-opacity="0.8" stroke="#d6d6d6" stroke-width="1"/>
<g style="font-size:13.60px;"><text x="64.75" y="1447.90" textLength="31.98" lengthAdjust="spacingAndGlyphs">Dose</text><text x="100.77" y="1447.90" textLength="39.64" lengthAdjust="spacingAndGlyphs">(mGy)</text></g>
<circle cx="86.1" cy="1463.4" r="3.4" fill="#f9b6c8"/>
<g style="font-size:13.60px;"><text x="108.84" y="1467.70" textLength="8.27" lengthAdjust="spacingAndGlyphs">0</text></g>
<circle cx="86.1" cy="1481.8" r="3.4" fill="#cdb26a"/>
<g style="font-size:13.60px;"><text x="108.27" y="1486.10" textLength="16.54" lengthAdjust="spacingAndGlyphs">10</text></g>
<circle cx="86.1" cy="1500.2" r="3.4" fill="#3b63ad"/>
<g style="font-size:13.60px;"><text x="108.70" y="1504.50" textLength="16.54" lengthAdjust="spacingAndGlyphs">50</text></g>
<circle cx="86.1" cy="1518.6" r="3.4" fill="#c53f4a"/>
<g style="font-size:13.60px;"><text x="108.27" y="1522.90" textLength="24.81" lengthAdjust="spacingAndGlyphs">100</text></g>
<rect x="54.5" y="1427.4" width="374.0" height="353.8" fill="none" stroke="#383838" stroke-width="1.25"/>
<g stroke="#383838" stroke-width="1.1"><line x1="83.4" y1="1781.2" x2="83.4" y2="1785.7"/><line x1="133.0" y1="1781.2" x2="133.0" y2="1785.7"/><line x1="182.6" y1="1781.2" x2="182.6" y2="1785.7"/><line x1="232.2" y1="1781.2" x2="232.2" y2="1785.7"/><line x1="281.8" y1="1781.2" x2="281.8" y2="1785.7"/><line x1="331.4" y1="1781.2" x2="331.4" y2="1785.7"/><line x1="381.0" y1="1781.2" x2="381.0" y2="1785.7"/><line x1="50.0" y1="1475.8" x2="54.5" y2="1475.8"/><line x1="50.0" y1="1534.7" x2="54.5" y2="1534.7"/><line x1="50.0" y1="1593.6" x2="54.5" y2="1593.6"/><line x1="50.0" y1="1652.5" x2="54.5" y2="1652.5"/><line x1="50.0" y1="1711.4" x2="54.5" y2="1711.4"/><line x1="50.0" y1="1770.3" x2="54.5" y2="1770.3"/></g>
<g style="font-size:13.30px;"><text x="74.10" y="1799.85" textLength="18.43" lengthAdjust="spacingAndGlyphs">−1</text></g>
<g style="font-size:13.30px;"><text x="129.03" y="1799.85" textLength="7.95" lengthAdjust="spacingAndGlyphs">0</text></g>
<g style="font-size:13.30px;"><text x="178.51" y="1799.85" textLength="7.95" lengthAdjust="spacingAndGlyphs">1</text></g>
<g style="font-size:13.30px;"><text x="228.39" y="1799.85" textLength="7.95" lengthAdjust="spacingAndGlyphs">2</text></g>
<g style="font-size:13.30px;"><text x="277.85" y="1799.85" textLength="7.95" lengthAdjust="spacingAndGlyphs">3</text></g>
<g style="font-size:13.30px;"><text x="327.47" y="1799.85" textLength="7.95" lengthAdjust="spacingAndGlyphs">4</text></g>
<g style="font-size:13.30px;"><text x="377.09" y="1799.85" textLength="7.95" lengthAdjust="spacingAndGlyphs">5</text></g>
<g style="font-size:13.30px;"><text x="37.83" y="1480.30" textLength="7.95" lengthAdjust="spacingAndGlyphs">6</text></g>
<g style="font-size:13.30px;"><text x="37.75" y="1539.20" textLength="7.95" lengthAdjust="spacingAndGlyphs">4</text></g>
<g style="font-size:13.30px;"><text x="38.30" y="1598.10" textLength="7.95" lengthAdjust="spacingAndGlyphs">2</text></g>
<g style="font-size:13.30px;"><text x="37.88" y="1657.00" textLength="7.95" lengthAdjust="spacingAndGlyphs">0</text></g>
<g style="font-size:13.30px;"><text x="27.82" y="1715.90" textLength="18.43" lengthAdjust="spacingAndGlyphs">−2</text></g>
<g style="font-size:13.30px;"><text x="27.28" y="1774.80" textLength="18.43" lengthAdjust="spacingAndGlyphs">−4</text></g>
<g style="font-size:25.80px;"><text x="60.40" y="1419.95" textLength="15.91" lengthAdjust="spacingAndGlyphs">2</text><text x="84.26" y="1419.95" textLength="141.43" lengthAdjust="spacingAndGlyphs">component</text><text x="233.63" y="1419.95" textLength="49.63" lengthAdjust="spacingAndGlyphs">PCA</text><text x="291.21" y="1419.95" textLength="9.02" lengthAdjust="spacingAndGlyphs">-</text><text x="308.18" y="1419.95" textLength="67.20" lengthAdjust="spacingAndGlyphs">ATRC</text><text x="383.33" y="1419.95" textLength="9.02" lengthAdjust="spacingAndGlyphs">-</text><text x="400.30" y="1419.95" textLength="22.81" lengthAdjust="spacingAndGlyphs">Si</text></g>
<g style="font-size:20.00px;"><text x="84.65" y="1821.75" textLength="80.87" lengthAdjust="spacingAndGlyphs">Principal</text><text x="171.53" y="1821.75" textLength="109.73" lengthAdjust="spacingAndGlyphs">Component</text><text x="287.26" y="1821.75" textLength="19.40" lengthAdjust="spacingAndGlyphs">1(</text><text x="312.67" y="1821.75" textLength="54.11" lengthAdjust="spacingAndGlyphs">25.66</text><text x="372.78" y="1821.75" textLength="25.33" lengthAdjust="spacingAndGlyphs">%)</text></g>
<g transform="translate(18.00,0) rotate(-90)" style="font-size:20.00px"><text x="-1761.20" y="0" textLength="80.87" lengthAdjust="spacingAndGlyphs">Principal</text><text x="-1674.32" y="0" textLength="109.73" lengthAdjust="spacingAndGlyphs">Component</text><text x="-1558.59" y="0" textLength="19.40" lengthAdjust="spacingAndGlyphs">2(</text><text x="-1533.18" y="0" textLength="54.11" lengthAdjust="spacingAndGlyphs">19.61</text><text x="-1473.07" y="0" textLength="25.33" lengthAdjust="spacingAndGlyphs">%)</text></g>
<g><circle cx="111.0" cy="1891.8" r="3.5" fill="#f9b6c8"/><circle cx="108.5" cy="1913.4" r="3.5" fill="#f9b6c8"/><circle cx="112.0" cy="1935.5" r="3.5" fill="#f9b6c8"/><circle cx="139.1" cy="1949.3" r="3.5" fill="#c53f4a"/><circle cx="136.1" cy="1959.1" r="3.5" fill="#f9b6c8"/><circle cx="121.5" cy="1981.4" r="3.5" fill="#f9b6c8"/><circle cx="155.4" cy="1997.3" r="3.5" fill="#3b63ad"/><circle cx="84.6" cy="2003.3" r="3.5" fill="#3b63ad"/><circle cx="132.8" cy="2009.6" r="3.5" fill="#f9b6c8"/><circle cx="83.3" cy="2023.6" r="3.5" fill="#3b63ad"/><circle cx="82.1" cy="2033.4" r="3.5" fill="#f9b6c8"/><circle cx="114.0" cy="2036.7" r="3.5" fill="#3b63ad"/><circle cx="122.8" cy="2041.0" r="3.5" fill="#f9b6c8"/><circle cx="76.3" cy="2042.5" r="3.5" fill="#f9b6c8"/><circle cx="108.5" cy="2053.0" r="3.5" fill="#f9b6c8"/><circle cx="117.7" cy="2057.3" r="3.5" fill="#f9b6c8"/><circle cx="87.6" cy="2061.0" r="3.5" fill="#f9b6c8"/><circle cx="109.0" cy="2063.0" r="3.5" fill="#f9b6c8"/><circle cx="71.0" cy="2070.0" r="3.5" fill="#f9b6c8"/><circle cx="111.7" cy="2069.8" r="3.5" fill="#f9b6c8"/><circle cx="141.1" cy="2068.1" r="3.5" fill="#f9b6c8"/><circle cx="99.7" cy="2077.6" r="3.5" fill="#f9b6c8"/><circle cx="96.4" cy="2074.1" r="3.5" fill="#3b63ad"/><circle cx="110.2" cy="2076.4" r="3.5" fill="#f9b6c8"/><circle cx="175.0" cy="2077.4" r="3.5" fill="#f9b6c8"/><circle cx="82.6" cy="2080.9" r="3.5" fill="#3b63ad"/><circle cx="87.9" cy="2090.2" r="3.5" fill="#c53f4a"/><circle cx="101.9" cy="2091.2" r="3.5" fill="#3b63ad"/><circle cx="194.3" cy="2090.2" r="3.5" fill="#f9b6c8"/><circle cx="94.2" cy="2106.3" r="3.5" fill="#f9b6c8"/><circle cx="88.9" cy="2105.9" r="3.5" fill="#c53f4a"/><circle cx="105.2" cy="2107.4" r="3.5" fill="#f9b6c8"/><circle cx="115.0" cy="2106.3" r="3.5" fill="#f9b6c8"/><circle cx="128.1" cy="2114.3" r="3.5" fill="#f9b6c8"/><circle cx="85.5" cy="2115.3" r="3.5" fill="#f9b6c8"/><circle cx="93.7" cy="2115.3" r="3.5" fill="#f9b6c8"/><circle cx="87.6" cy="2119.1" r="3.5" fill="#f9b6c8"/><circle cx="81.4" cy="2121.6" r="3.5" fill="#c53f4a"/><circle cx="158.7" cy="2124.5" r="3.5" fill="#f9b6c8"/><circle cx="97.0" cy="2123.5" r="3.5" fill="#f9b6c8"/><circle cx="102.7" cy="2122.8" r="3.5" fill="#f9b6c8"/><circle cx="106.5" cy="2124.1" r="3.5" fill="#f9b6c8"/><circle cx="79.5" cy="2126.0" r="3.5" fill="#f9b6c8"/><circle cx="96.4" cy="2127.9" r="3.5" fill="#f9b6c8"/><circle cx="87.0" cy="2125.4" r="3.5" fill="#3b63ad"/><circle cx="90.1" cy="2130.4" r="3.5" fill="#3b63ad"/><circle cx="82.0" cy="2139.2" r="3.5" fill="#f9b6c8"/><circle cx="86.4" cy="2142.9" r="3.5" fill="#f9b6c8"/><circle cx="93.9" cy="2142.3" r="3.5" fill="#f9b6c8"/><circle cx="96.4" cy="2145.4" r="3.5" fill="#f9b6c8"/><circle cx="81.1" cy="2133.3" r="3.5" fill="#3b63ad"/><circle cx="101.8" cy="2132.9" r="3.5" fill="#c53f4a"/><circle cx="98.0" cy="2136.4" r="3.5" fill="#3b63ad"/><circle cx="93.3" cy="2138.9" r="3.5" fill="#3b63ad"/><circle cx="88.3" cy="2138.8" r="3.5" fill="#c53f4a"/><circle cx="107.1" cy="2139.2" r="3.5" fill="#c53f4a"/><circle cx="111.5" cy="2141.3" r="3.5" fill="#c53f4a"/><circle cx="127.3" cy="2143.8" r="3.5" fill="#c53f4a"/><circle cx="82.6" cy="2143.9" r="3.5" fill="#3b63ad"/><circle cx="110.2" cy="2151.7" r="3.5" fill="#f9b6c8"/><circle cx="128.2" cy="2159.2" r="3.5" fill="#f9b6c8"/><circle cx="282.5" cy="2099.5" r="3.5" fill="#f9b6c8"/><circle cx="411.5" cy="2213.5" r="3.5" fill="#f9b6c8"/></g>
<g stroke="#bababa" stroke-width="1.25"><line x1="107.8" y1="1876.1" x2="107.8" y2="2229.9"/><line x1="174.8" y1="1876.1" x2="174.8" y2="2229.9"/><line x1="241.8" y1="1876.1" x2="241.8" y2="2229.9"/><line x1="308.8" y1="1876.1" x2="308.8" y2="2229.9"/><line x1="375.8" y1="1876.1" x2="375.8" y2="2229.9"/><line x1="54.5" y1="1900.6" x2="428.5" y2="1900.6"/><line x1="54.5" y1="1950.1" x2="428.5" y2="1950.1"/><line x1="54.5" y1="1999.6" x2="428.5" y2="1999.6"/><line x1="54.5" y1="2049.1" x2="428.5" y2="2049.1"/><line x1="54.5" y1="2098.6" x2="428.5" y2="2098.6"/><line x1="54.5" y1="2148.1" x2="428.5" y2="2148.1"/><line x1="54.5" y1="2197.6" x2="428.5" y2="2197.6"/></g>
<rect x="337.5" y="1882.5" width="84.0" height="95.0" rx="2.5" fill="#fff" fill-opacity="0.8" stroke="#d6d6d6" stroke-width="1"/>
<g style="font-size:13.60px;"><text x="341.75" y="1896.90" textLength="31.98" lengthAdjust="spacingAndGlyphs">Dose</text><text x="377.77" y="1896.90" textLength="39.64" lengthAdjust="spacingAndGlyphs">(mGy)</text></g>
<circle cx="363.1" cy="1912.4" r="3.4" fill="#f9b6c8"/>
<g style="font-size:13.60px;"><text x="385.84" y="1916.70" textLength="8.27" lengthAdjust="spacingAndGlyphs">0</text></g>
<circle cx="363.1" cy="1930.8" r="3.4" fill="#cdb26a"/>
<g style="font-size:13.60px;"><text x="385.27" y="1935.10" textLength="16.54" lengthAdjust="spacingAndGlyphs">10</text></g>
<circle cx="363.1" cy="1949.2" r="3.4" fill="#3b63ad"/>
<g style="font-size:13.60px;"><text x="385.70" y="1953.50" textLength="16.54" lengthAdjust="spacingAndGlyphs">50</text></g>
<circle cx="363.1" cy="1967.6" r="3.4" fill="#c53f4a"/>
<g style="font-size:13.60px;"><text x="385.27" y="1971.90" textLength="24.81" lengthAdjust="spacingAndGlyphs">100</text></g>
<rect x="54.5" y="1876.1" width="374.0" height="353.8" fill="none" stroke="#383838" stroke-width="1.25"/>
<g stroke="#383838" stroke-width="1.1"><line x1="107.8" y1="2229.9" x2="107.8" y2="2234.4"/><line x1="174.8" y1="2229.9" x2="174.8" y2="2234.4"/><line x1="241.8" y1="2229.9" x2="241.8" y2="2234.4"/><line x1="308.8" y1="2229.9" x2="308.8" y2="2234.4"/><line x1="375.8" y1="2229.9" x2="375.8" y2="2234.4"/><line x1="50.0" y1="1900.6" x2="54.5" y2="1900.6"/><line x1="50.0" y1="1950.1" x2="54.5" y2="1950.1"/><line x1="50.0" y1="1999.6" x2="54.5" y2="1999.6"/><line x1="50.0" y1="2049.1" x2="54.5" y2="2049.1"/><line x1="50.0" y1="2098.6" x2="54.5" y2="2098.6"/><line x1="50.0" y1="2148.1" x2="54.5" y2="2148.1"/><line x1="50.0" y1="2197.6" x2="54.5" y2="2197.6"/></g>
<g style="font-size:13.30px;"><text x="103.83" y="2248.50" textLength="7.95" lengthAdjust="spacingAndGlyphs">0</text></g>
<g style="font-size:13.30px;"><text x="170.99" y="2248.50" textLength="7.95" lengthAdjust="spacingAndGlyphs">2</text></g>
<g style="font-size:13.30px;"><text x="237.87" y="2248.50" textLength="7.95" lengthAdjust="spacingAndGlyphs">4</text></g>
<g style="font-size:13.30px;"><text x="304.78" y="2248.50" textLength="7.95" lengthAdjust="spacingAndGlyphs">6</text></g>
<g style="font-size:13.30px;"><text x="371.83" y="2248.50" textLength="7.95" lengthAdjust="spacingAndGlyphs">8</text></g>
<g style="font-size:13.30px;"><text x="37.75" y="1905.10" textLength="7.95" lengthAdjust="spacingAndGlyphs">4</text></g>
<g style="font-size:13.30px;"><text x="38.05" y="1954.60" textLength="7.95" lengthAdjust="spacingAndGlyphs">3</text></g>
<g style="font-size:13.30px;"><text x="38.30" y="2004.10" textLength="7.95" lengthAdjust="spacingAndGlyphs">2</text></g>
<g style="font-size:13.30px;"><text x="38.20" y="2053.60" textLength="7.95" lengthAdjust="spacingAndGlyphs">1</text></g>
<g style="font-size:13.30px;"><text x="37.88" y="2103.10" textLength="7.95" lengthAdjust="spacingAndGlyphs">0</text></g>
<g style="font-size:13.30px;"><text x="27.73" y="2152.60" textLength="18.43" lengthAdjust="spacingAndGlyphs">−1</text></g>
<g style="font-size:13.30px;"><text x="27.82" y="2202.10" textLength="18.43" lengthAdjust="spacingAndGlyphs">−2</text></g>
<g style="font-size:25.80px;"><text x="60.70" y="1868.60" textLength="15.91" lengthAdjust="spacingAndGlyphs">2</text><text x="84.55" y="1868.60" textLength="141.43" lengthAdjust="spacingAndGlyphs">component</text><text x="233.93" y="1868.60" textLength="49.63" lengthAdjust="spacingAndGlyphs">PCA</text><text x="291.51" y="1868.60" textLength="9.02" lengthAdjust="spacingAndGlyphs">-</text><text x="308.48" y="1868.60" textLength="67.20" lengthAdjust="spacingAndGlyphs">ATRC</text><text x="383.63" y="1868.60" textLength="9.02" lengthAdjust="spacingAndGlyphs">-</text><text x="400.59" y="1868.60" textLength="22.22" lengthAdjust="spacingAndGlyphs">Ti</text></g>
<g style="font-size:20.00px;"><text x="84.65" y="2270.40" textLength="80.87" lengthAdjust="spacingAndGlyphs">Principal</text><text x="171.53" y="2270.40" textLength="109.73" lengthAdjust="spacingAndGlyphs">Component</text><text x="287.26" y="2270.40" textLength="19.40" lengthAdjust="spacingAndGlyphs">1(</text><text x="312.67" y="2270.40" textLength="54.11" lengthAdjust="spacingAndGlyphs">24.94</text><text x="372.78" y="2270.40" textLength="25.33" lengthAdjust="spacingAndGlyphs">%)</text></g>
<g transform="translate(18.00,0) rotate(-90)" style="font-size:20.00px"><text x="-2209.85" y="0" textLength="80.87" lengthAdjust="spacingAndGlyphs">Principal</text><text x="-2122.97" y="0" textLength="109.73" lengthAdjust="spacingAndGlyphs">Component</text><text x="-2007.24" y="0" textLength="19.40" lengthAdjust="spacingAndGlyphs">2(</text><text x="-1981.83" y="0" textLength="54.11" lengthAdjust="spacingAndGlyphs">20.73</text><text x="-1921.72" y="0" textLength="25.33" lengthAdjust="spacingAndGlyphs">%)</text></g>
<g><circle cx="770.5" cy="97.5" r="3.1" fill="#ff7f0e"/><circle cx="683.3" cy="128.0" r="3.1" fill="#1f77b4"/><circle cx="685.8" cy="124.8" r="3.1" fill="#ff7f0e"/><circle cx="690.1" cy="135.6" r="3.1" fill="#ff7f0e"/><circle cx="667.4" cy="252.2" r="3.1" fill="#1f77b4"/><circle cx="690.0" cy="263.5" r="3.1" fill="#1f77b4"/><circle cx="650.9" cy="271.0" r="3.1" fill="#1f77b4"/><circle cx="662.0" cy="283.6" r="3.1" fill="#1f77b4"/><circle cx="716.6" cy="287.5" r="3.1" fill="#ff7f0e"/><circle cx="652.2" cy="293.6" r="3.1" fill="#1f77b4"/><circle cx="648.2" cy="301.2" r="3.1" fill="#ff7f0e"/><circle cx="657.2" cy="310.0" r="3.1" fill="#1f77b4"/><circle cx="717.8" cy="306.9" r="3.1" fill="#1f77b4"/><circle cx="713.8" cy="310.0" r="3.1" fill="#ff7f0e"/><circle cx="723.8" cy="311.3" r="3.1" fill="#1f77b4"/><circle cx="636.9" cy="281.9" r="3.1" fill="#1f77b4"/><circle cx="638.1" cy="286.1" r="3.1" fill="#ff7f0e"/><circle cx="612.9" cy="290.1" r="3.1" fill="#ff7f0e"/><circle cx="619.3" cy="287.3" r="3.1" fill="#ff7f0e"/><circle cx="636.9" cy="306.1" r="3.1" fill="#1f77b4"/><circle cx="623.1" cy="313.7" r="3.1" fill="#1f77b4"/><circle cx="639.4" cy="313.7" r="3.1" fill="#ff7f0e"/><circle cx="630.6" cy="317.4" r="3.1" fill="#ff7f0e"/><circle cx="649.4" cy="317.4" r="3.1" fill="#ff7f0e"/><circle cx="599.2" cy="322.5" r="3.1" fill="#1f77b4"/><circle cx="610.5" cy="323.7" r="3.1" fill="#ff7f0e"/><circle cx="612.9" cy="320.2" r="3.1" fill="#ff7f0e"/><circle cx="617.7" cy="321.5" r="3.1" fill="#ff7f0e"/><circle cx="615.5" cy="324.0" r="3.1" fill="#ff7f0e"/><circle cx="625.8" cy="322.5" r="3.1" fill="#ff7f0e"/><circle cx="629.3" cy="325.2" r="3.1" fill="#ff7f0e"/><circle cx="639.4" cy="323.7" r="3.1" fill="#ff7f0e"/><circle cx="646.9" cy="321.2" r="3.1" fill="#1f77b4"/><circle cx="667.6" cy="321.0" r="3.1" fill="#ff7f0e"/><circle cx="667.6" cy="327.3" r="3.1" fill="#ff7f0e"/><circle cx="652.5" cy="326.2" r="3.1" fill="#ff7f0e"/><circle cx="656.9" cy="327.5" r="3.1" fill="#ff7f0e"/><circle cx="618.0" cy="327.5" r="3.1" fill="#ff7f0e"/><circle cx="634.3" cy="326.2" r="3.1" fill="#1f77b4"/><circle cx="674.9" cy="331.0" r="3.1" fill="#1f77b4"/><circle cx="681.2" cy="331.0" r="3.1" fill="#1f77b4"/><circle cx="697.4" cy="332.4" r="3.1" fill="#1f77b4"/><circle cx="592.9" cy="335.0" r="3.1" fill="#1f77b4"/><circle cx="604.2" cy="332.4" r="3.1" fill="#1f77b4"/><circle cx="603.0" cy="338.8" r="3.1" fill="#1f77b4"/><circle cx="619.3" cy="337.5" r="3.1" fill="#1f77b4"/><circle cx="623.1" cy="333.8" r="3.1" fill="#1f77b4"/><circle cx="626.4" cy="330.9" r="3.1" fill="#1f77b4"/><circle cx="631.8" cy="329.0" r="3.1" fill="#ff7f0e"/><circle cx="634.3" cy="332.8" r="3.1" fill="#ff7f0e"/><circle cx="638.1" cy="331.5" r="3.1" fill="#ff7f0e"/><circle cx="641.9" cy="334.0" r="3.1" fill="#ff7f0e"/><circle cx="648.8" cy="331.5" r="3.1" fill="#1f77b4"/><circle cx="645.6" cy="336.3" r="3.1" fill="#ff7f0e"/><circle cx="649.4" cy="337.5" r="3.1" fill="#ff7f0e"/><circle cx="651.9" cy="340.0" r="3.1" fill="#ff7f0e"/><circle cx="651.9" cy="343.4" r="3.1" fill="#ff7f0e"/><circle cx="659.5" cy="340.0" r="3.1" fill="#ff7f0e"/><circle cx="628.1" cy="341.5" r="3.1" fill="#1f77b4"/><circle cx="624.3" cy="340.0" r="3.1" fill="#ff7f0e"/><circle cx="629.3" cy="340.0" r="3.1" fill="#ff7f0e"/><circle cx="638.1" cy="342.5" r="3.1" fill="#ff7f0e"/><circle cx="611.8" cy="342.5" r="3.1" fill="#ff7f0e"/><circle cx="619.3" cy="344.9" r="3.1" fill="#1f77b4"/><circle cx="603.0" cy="347.4" r="3.1" fill="#1f77b4"/><circle cx="603.0" cy="350.0" r="3.1" fill="#1f77b4"/><circle cx="656.9" cy="347.6" r="3.1" fill="#1f77b4"/><circle cx="656.9" cy="350.1" r="3.1" fill="#1f77b4"/><circle cx="655.7" cy="352.8" r="3.1" fill="#1f77b4"/><circle cx="669.9" cy="346.2" r="3.1" fill="#1f77b4"/><circle cx="669.9" cy="351.2" r="3.1" fill="#1f77b4"/><circle cx="618.0" cy="350.1" r="3.1" fill="#ff7f0e"/><circle cx="628.1" cy="351.6" r="3.1" fill="#ff7f0e"/><circle cx="594.2" cy="355.4" r="3.1" fill="#1f77b4"/><circle cx="604.2" cy="356.4" r="3.1" fill="#ff7f0e"/><circle cx="610.5" cy="360.1" r="3.1" fill="#1f77b4"/><circle cx="618.0" cy="360.1" r="3.1" fill="#1f77b4"/><circle cx="630.6" cy="362.6" r="3.1" fill="#1f77b4"/><circle cx="670.7" cy="358.9" r="3.1" fill="#ff7f0e"/><circle cx="676.4" cy="357.5" r="3.1" fill="#1f77b4"/><circle cx="681.0" cy="362.6" r="3.1" fill="#1f77b4"/><circle cx="679.5" cy="365.1" r="3.1" fill="#1f77b4"/><circle cx="682.0" cy="367.7" r="3.1" fill="#ff7f0e"/><circle cx="688.6" cy="370.4" r="3.1" fill="#1f77b4"/><circle cx="694.6" cy="370.4" r="3.1" fill="#1f77b4"/><circle cx="664.5" cy="384.0" r="3.1" fill="#1f77b4"/><circle cx="676.0" cy="383.0" r="3.1" fill="#ff7f0e"/><circle cx="699.2" cy="389.2" r="3.1" fill="#1f77b4"/><circle cx="738.9" cy="344.0" r="3.1" fill="#1f77b4"/><circle cx="799.4" cy="268.4" r="3.1" fill="#ff7f0e"/><circle cx="775.5" cy="289.7" r="3.1" fill="#1f77b4"/><circle cx="799.4" cy="336.2" r="3.1" fill="#ff7f0e"/><circle cx="868.4" cy="339.9" r="3.1" fill="#ff7f0e"/><circle cx="819.4" cy="351.2" r="3.1" fill="#ff7f0e"/><circle cx="742.6" cy="369.0" r="3.1" fill="#ff7f0e"/><circle cx="722.8" cy="376.6" r="3.1" fill="#ff7f0e"/><circle cx="934.2" cy="372.6" r="3.1" fill="#ff7f0e"/><circle cx="733.8" cy="387.9" r="3.1" fill="#1f77b4"/><circle cx="824.5" cy="394.2" r="3.1" fill="#ff7f0e"/><circle cx="835.8" cy="419.3" r="3.1" fill="#ff7f0e"/></g>
<g stroke="#bababa" stroke-width="1.25"><line x1="614.2" y1="81.2" x2="614.2" y2="435.5"/><line x1="664.2" y1="81.2" x2="664.2" y2="435.5"/><line x1="714.2" y1="81.2" x2="714.2" y2="435.5"/><line x1="764.2" y1="81.2" x2="764.2" y2="435.5"/><line x1="814.2" y1="81.2" x2="814.2" y2="435.5"/><line x1="864.2" y1="81.2" x2="864.2" y2="435.5"/><line x1="914.2" y1="81.2" x2="914.2" y2="435.5"/><line x1="576.6" y1="84.7" x2="951.5" y2="84.7"/><line x1="576.6" y1="133.3" x2="951.5" y2="133.3"/><line x1="576.6" y1="181.8" x2="951.5" y2="181.8"/><line x1="576.6" y1="230.4" x2="951.5" y2="230.4"/><line x1="576.6" y1="278.9" x2="951.5" y2="278.9"/><line x1="576.6" y1="327.5" x2="951.5" y2="327.5"/><line x1="576.6" y1="376.1" x2="951.5" y2="376.1"/><line x1="576.6" y1="424.6" x2="951.5" y2="424.6"/></g>
<rect x="810.9" y="87.9" width="134.1" height="59.0" rx="2.5" fill="#fff" fill-opacity="0.8" stroke="#d6d6d6" stroke-width="1"/>
<g style="font-size:13.40px;"><text x="839.65" y="102.80" textLength="31.98" lengthAdjust="spacingAndGlyphs">Dose</text><text x="875.67" y="102.80" textLength="39.64" lengthAdjust="spacingAndGlyphs">(mGy)</text></g>
<circle cx="828.2" cy="119.1" r="3.2" fill="#1f77b4"/>
<g style="font-size:13.40px;"><text x="850.76" y="122.40" textLength="8.08" lengthAdjust="spacingAndGlyphs">0</text></g>
<circle cx="828.2" cy="137.5" r="3.2" fill="#ff7f0e"/>
<g style="font-size:13.40px;"><text x="850.20" y="140.80" textLength="20.20" lengthAdjust="spacingAndGlyphs">10,</text><text x="874.44" y="140.80" textLength="20.20" lengthAdjust="spacingAndGlyphs">50,</text><text x="898.67" y="140.80" textLength="12.99" lengthAdjust="spacingAndGlyphs">or</text><text x="915.70" y="140.80" textLength="24.24" lengthAdjust="spacingAndGlyphs">100</text></g>
<rect x="576.6" y="81.2" width="374.9" height="354.3" fill="none" stroke="#383838" stroke-width="1.25"/>
<g stroke="#383838" stroke-width="1.1"><line x1="614.2" y1="435.5" x2="614.2" y2="440.0"/><line x1="664.2" y1="435.5" x2="664.2" y2="440.0"/><line x1="714.2" y1="435.5" x2="714.2" y2="440.0"/><line x1="764.2" y1="435.5" x2="764.2" y2="440.0"/><line x1="814.2" y1="435.5" x2="814.2" y2="440.0"/><line x1="864.2" y1="435.5" x2="864.2" y2="440.0"/><line x1="914.2" y1="435.5" x2="914.2" y2="440.0"/><line x1="572.1" y1="84.7" x2="576.6" y2="84.7"/><line x1="572.1" y1="133.3" x2="576.6" y2="133.3"/><line x1="572.1" y1="181.8" x2="576.6" y2="181.8"/><line x1="572.1" y1="230.4" x2="576.6" y2="230.4"/><line x1="572.1" y1="278.9" x2="576.6" y2="278.9"/><line x1="572.1" y1="327.5" x2="576.6" y2="327.5"/><line x1="572.1" y1="376.1" x2="576.6" y2="376.1"/><line x1="572.1" y1="424.6" x2="576.6" y2="424.6"/></g>
<g style="font-size:13.90px;"><text x="604.90" y="455.50" textLength="18.43" lengthAdjust="spacingAndGlyphs">−1</text></g>
<g style="font-size:13.90px;"><text x="660.23" y="455.50" textLength="7.95" lengthAdjust="spacingAndGlyphs">0</text></g>
<g style="font-size:13.90px;"><text x="710.11" y="455.50" textLength="7.95" lengthAdjust="spacingAndGlyphs">1</text></g>
<g style="font-size:13.90px;"><text x="760.39" y="455.50" textLength="7.95" lengthAdjust="spacingAndGlyphs">2</text></g>
<g style="font-size:13.90px;"><text x="810.25" y="455.50" textLength="7.95" lengthAdjust="spacingAndGlyphs">3</text></g>
<g style="font-size:13.90px;"><text x="860.27" y="455.50" textLength="7.95" lengthAdjust="spacingAndGlyphs">4</text></g>
<g style="font-size:13.90px;"><text x="910.29" y="455.50" textLength="7.95" lengthAdjust="spacingAndGlyphs">5</text></g>
<g style="font-size:13.90px;"><text x="559.14" y="89.20" textLength="7.95" lengthAdjust="spacingAndGlyphs">5</text></g>
<g style="font-size:13.90px;"><text x="558.75" y="137.76" textLength="7.95" lengthAdjust="spacingAndGlyphs">4</text></g>
<g style="font-size:13.90px;"><text x="559.05" y="186.32" textLength="7.95" lengthAdjust="spacingAndGlyphs">3</text></g>
<g style="font-size:13.90px;"><text x="559.30" y="234.88" textLength="7.95" lengthAdjust="spacingAndGlyphs">2</text></g>
<g style="font-size:13.90px;"><text x="559.20" y="283.44" textLength="7.95" lengthAdjust="spacingAndGlyphs">1</text></g>
<g style="font-size:13.90px;"><text x="558.88" y="332.00" textLength="7.95" lengthAdjust="spacingAndGlyphs">0</text></g>
<g style="font-size:13.90px;"><text x="548.73" y="380.56" textLength="18.43" lengthAdjust="spacingAndGlyphs">−1</text></g>
<g style="font-size:13.90px;"><text x="548.82" y="429.12" textLength="18.43" lengthAdjust="spacingAndGlyphs">−2</text></g>
<g style="font-size:24.00px;"><text x="576.76" y="74.30" textLength="15.91" lengthAdjust="spacingAndGlyphs">2</text><text x="600.62" y="74.30" textLength="141.43" lengthAdjust="spacingAndGlyphs">component</text><text x="749.99" y="74.30" textLength="49.63" lengthAdjust="spacingAndGlyphs">PCA</text><text x="807.57" y="74.30" textLength="9.02" lengthAdjust="spacingAndGlyphs">-</text><text x="824.54" y="74.30" textLength="67.20" lengthAdjust="spacingAndGlyphs">ATRC</text><text x="899.69" y="74.30" textLength="9.02" lengthAdjust="spacingAndGlyphs">-</text><text x="916.66" y="74.30" textLength="34.18" lengthAdjust="spacingAndGlyphs">He</text></g>
<g style="font-size:20.00px;"><text x="613.21" y="477.30" textLength="80.87" lengthAdjust="spacingAndGlyphs">Principal</text><text x="700.09" y="477.30" textLength="109.73" lengthAdjust="spacingAndGlyphs">Component</text><text x="815.83" y="477.30" textLength="19.40" lengthAdjust="spacingAndGlyphs">1(</text><text x="841.23" y="477.30" textLength="42.08" lengthAdjust="spacingAndGlyphs">35.6</text><text x="889.32" y="477.30" textLength="25.33" lengthAdjust="spacingAndGlyphs">%)</text></g>
<g transform="translate(537.60,0) rotate(-90)" style="font-size:20.00px"><text x="-415.20" y="0" textLength="80.87" lengthAdjust="spacingAndGlyphs">Principal</text><text x="-328.32" y="0" textLength="109.73" lengthAdjust="spacingAndGlyphs">Component</text><text x="-212.59" y="0" textLength="19.40" lengthAdjust="spacingAndGlyphs">2(</text><text x="-187.18" y="0" textLength="54.11" lengthAdjust="spacingAndGlyphs">25.42</text><text x="-127.07" y="0" textLength="25.33" lengthAdjust="spacingAndGlyphs">%)</text></g>
<g><circle cx="833.1" cy="546.1" r="3.1" fill="#ff7f0e"/><circle cx="689.6" cy="604.1" r="3.1" fill="#ff7f0e"/><circle cx="689.6" cy="654.5" r="3.1" fill="#ff7f0e"/><circle cx="884.7" cy="867.7" r="3.1" fill="#ff7f0e"/><circle cx="933.6" cy="866.8" r="3.1" fill="#ff7f0e"/><circle cx="657.1" cy="722.3" r="3.1" fill="#ff7f0e"/><circle cx="639.6" cy="726.0" r="3.1" fill="#1f77b4"/><circle cx="631.0" cy="731.0" r="3.1" fill="#1f77b4"/><circle cx="627.1" cy="731.5" r="3.1" fill="#ff7f0e"/><circle cx="626.0" cy="733.6" r="3.1" fill="#ff7f0e"/><circle cx="649.2" cy="752.2" r="3.1" fill="#1f77b4"/><circle cx="658.2" cy="756.1" r="3.1" fill="#1f77b4"/><circle cx="635.8" cy="757.1" r="3.1" fill="#1f77b4"/><circle cx="631.6" cy="766.0" r="3.1" fill="#1f77b4"/><circle cx="637.0" cy="767.6" r="3.1" fill="#ff7f0e"/><circle cx="645.7" cy="773.7" r="3.1" fill="#ff7f0e"/><circle cx="642.8" cy="777.7" r="3.1" fill="#1f77b4"/><circle cx="665.8" cy="782.6" r="3.1" fill="#1f77b4"/><circle cx="687.5" cy="781.3" r="3.1" fill="#1f77b4"/><circle cx="680.9" cy="786.5" r="3.1" fill="#ff7f0e"/><circle cx="691.1" cy="793.9" r="3.1" fill="#ff7f0e"/><circle cx="610.5" cy="779.1" r="3.1" fill="#1f77b4"/><circle cx="617.1" cy="782.2" r="3.1" fill="#1f77b4"/><circle cx="609.0" cy="782.6" r="3.1" fill="#ff7f0e"/><circle cx="624.2" cy="781.2" r="3.1" fill="#ff7f0e"/><circle cx="640.5" cy="784.9" r="3.1" fill="#1f77b4"/><circle cx="642.2" cy="789.6" r="3.1" fill="#1f77b4"/><circle cx="611.4" cy="789.0" r="3.1" fill="#ff7f0e"/><circle cx="623.4" cy="785.9" r="3.1" fill="#1f77b4"/><circle cx="632.3" cy="792.2" r="3.1" fill="#1f77b4"/><circle cx="635.4" cy="795.3" r="3.1" fill="#1f77b4"/><circle cx="627.1" cy="795.8" r="3.1" fill="#1f77b4"/><circle cx="629.2" cy="787.8" r="3.1" fill="#ff7f0e"/><circle cx="626.0" cy="790.1" r="3.1" fill="#ff7f0e"/><circle cx="621.8" cy="792.2" r="3.1" fill="#ff7f0e"/><circle cx="618.7" cy="794.3" r="3.1" fill="#ff7f0e"/><circle cx="648.5" cy="795.1" r="3.1" fill="#1f77b4"/><circle cx="601.7" cy="794.8" r="3.1" fill="#1f77b4"/><circle cx="643.1" cy="799.0" r="3.1" fill="#ff7f0e"/><circle cx="617.7" cy="799.5" r="3.1" fill="#ff7f0e"/><circle cx="616.1" cy="803.7" r="3.1" fill="#ff7f0e"/><circle cx="679.9" cy="797.5" r="3.1" fill="#1f77b4"/><circle cx="599.4" cy="804.7" r="3.1" fill="#1f77b4"/><circle cx="604.1" cy="805.8" r="3.1" fill="#1f77b4"/><circle cx="617.7" cy="807.3" r="3.1" fill="#1f77b4"/><circle cx="621.3" cy="806.3" r="3.1" fill="#1f77b4"/><circle cx="646.9" cy="807.9" r="3.1" fill="#ff7f0e"/><circle cx="660.8" cy="808.0" r="3.1" fill="#ff7f0e"/><circle cx="685.1" cy="806.9" r="3.1" fill="#ff7f0e"/><circle cx="593.1" cy="812.6" r="3.1" fill="#1f77b4"/><circle cx="624.2" cy="811.5" r="3.1" fill="#ff7f0e"/><circle cx="602.0" cy="815.7" r="3.1" fill="#1f77b4"/><circle cx="607.7" cy="816.7" r="3.1" fill="#1f77b4"/><circle cx="613.5" cy="816.7" r="3.1" fill="#ff7f0e"/><circle cx="617.1" cy="817.8" r="3.1" fill="#ff7f0e"/><circle cx="633.1" cy="816.5" r="3.1" fill="#ff7f0e"/><circle cx="644.3" cy="813.6" r="3.1" fill="#1f77b4"/><circle cx="644.3" cy="817.3" r="3.1" fill="#1f77b4"/><circle cx="669.7" cy="815.2" r="3.1" fill="#1f77b4"/><circle cx="697.4" cy="815.1" r="3.1" fill="#1f77b4"/><circle cx="691.1" cy="817.6" r="3.1" fill="#ff7f0e"/><circle cx="712.6" cy="815.1" r="3.1" fill="#ff7f0e"/><circle cx="613.0" cy="822.0" r="3.1" fill="#1f77b4"/><circle cx="624.5" cy="821.4" r="3.1" fill="#ff7f0e"/><circle cx="629.2" cy="823.0" r="3.1" fill="#ff7f0e"/><circle cx="632.1" cy="826.7" r="3.1" fill="#1f77b4"/><circle cx="651.1" cy="822.8" r="3.1" fill="#1f77b4"/><circle cx="644.6" cy="826.7" r="3.1" fill="#ff7f0e"/><circle cx="688.5" cy="825.5" r="3.1" fill="#ff7f0e"/><circle cx="624.5" cy="830.3" r="3.1" fill="#1f77b4"/><circle cx="679.7" cy="830.2" r="3.1" fill="#ff7f0e"/><circle cx="634.4" cy="835.6" r="3.1" fill="#ff7f0e"/><circle cx="650.9" cy="837.9" r="3.1" fill="#ff7f0e"/><circle cx="645.7" cy="841.8" r="3.1" fill="#ff7f0e"/><circle cx="667.1" cy="836.6" r="3.1" fill="#1f77b4"/><circle cx="687.4" cy="839.2" r="3.1" fill="#1f77b4"/><circle cx="660.5" cy="842.9" r="3.1" fill="#1f77b4"/><circle cx="659.5" cy="845.5" r="3.1" fill="#1f77b4"/><circle cx="668.7" cy="845.5" r="3.1" fill="#1f77b4"/><circle cx="664.7" cy="849.7" r="3.1" fill="#ff7f0e"/><circle cx="660.5" cy="851.8" r="3.1" fill="#1f77b4"/><circle cx="714.9" cy="854.3" r="3.1" fill="#ff7f0e"/><circle cx="726.2" cy="845.6" r="3.1" fill="#1f77b4"/><circle cx="667.1" cy="864.3" r="3.1" fill="#1f77b4"/><circle cx="686.2" cy="866.9" r="3.1" fill="#ff7f0e"/><circle cx="701.1" cy="868.1" r="3.1" fill="#ff7f0e"/></g>
<g stroke="#bababa" stroke-width="1.25"><line x1="648.6" y1="530.1" x2="648.6" y2="884.4"/><line x1="721.1" y1="530.1" x2="721.1" y2="884.4"/><line x1="793.6" y1="530.1" x2="793.6" y2="884.4"/><line x1="866.1" y1="530.1" x2="866.1" y2="884.4"/><line x1="938.6" y1="530.1" x2="938.6" y2="884.4"/><line x1="576.6" y1="560.3" x2="951.5" y2="560.3"/><line x1="576.6" y1="608.0" x2="951.5" y2="608.0"/><line x1="576.6" y1="655.7" x2="951.5" y2="655.7"/><line x1="576.6" y1="703.3" x2="951.5" y2="703.3"/><line x1="576.6" y1="751.0" x2="951.5" y2="751.0"/><line x1="576.6" y1="798.7" x2="951.5" y2="798.7"/><line x1="576.6" y1="846.4" x2="951.5" y2="846.4"/></g>
<rect x="583.5" y="536.1" width="132.0" height="60.2" rx="2.5" fill="#fff" fill-opacity="0.8" stroke="#d6d6d6" stroke-width="1"/>
<g style="font-size:13.40px;"><text x="612.25" y="551.00" textLength="31.98" lengthAdjust="spacingAndGlyphs">Dose</text><text x="648.27" y="551.00" textLength="39.64" lengthAdjust="spacingAndGlyphs">(mGy)</text></g>
<circle cx="600.8" cy="567.3" r="3.2" fill="#1f77b4"/>
<g style="font-size:13.40px;"><text x="623.36" y="570.60" textLength="8.08" lengthAdjust="spacingAndGlyphs">0</text></g>
<circle cx="600.8" cy="585.7" r="3.2" fill="#ff7f0e"/>
<g style="font-size:13.40px;"><text x="622.80" y="589.00" textLength="20.20" lengthAdjust="spacingAndGlyphs">10,</text><text x="647.04" y="589.00" textLength="20.20" lengthAdjust="spacingAndGlyphs">50,</text><text x="671.27" y="589.00" textLength="12.99" lengthAdjust="spacingAndGlyphs">or</text><text x="688.30" y="589.00" textLength="24.24" lengthAdjust="spacingAndGlyphs">100</text></g>
<rect x="576.6" y="530.1" width="374.9" height="354.3" fill="none" stroke="#383838" stroke-width="1.25"/>
<g stroke="#383838" stroke-width="1.1"><line x1="648.6" y1="884.4" x2="648.6" y2="888.9"/><line x1="721.1" y1="884.4" x2="721.1" y2="888.9"/><line x1="793.6" y1="884.4" x2="793.6" y2="888.9"/><line x1="866.1" y1="884.4" x2="866.1" y2="888.9"/><line x1="938.6" y1="884.4" x2="938.6" y2="888.9"/><line x1="572.1" y1="560.3" x2="576.6" y2="560.3"/><line x1="572.1" y1="608.0" x2="576.6" y2="608.0"/><line x1="572.1" y1="655.7" x2="576.6" y2="655.7"/><line x1="572.1" y1="703.3" x2="576.6" y2="703.3"/><line x1="572.1" y1="751.0" x2="576.6" y2="751.0"/><line x1="572.1" y1="798.7" x2="576.6" y2="798.7"/><line x1="572.1" y1="846.4" x2="576.6" y2="846.4"/></g>
<g style="font-size:13.90px;"><text x="644.63" y="904.35" textLength="7.95" lengthAdjust="spacingAndGlyphs">0</text></g>
<g style="font-size:13.90px;"><text x="717.29" y="904.35" textLength="7.95" lengthAdjust="spacingAndGlyphs">2</text></g>
<g style="font-size:13.90px;"><text x="789.67" y="904.35" textLength="7.95" lengthAdjust="spacingAndGlyphs">4</text></g>
<g style="font-size:13.90px;"><text x="862.08" y="904.35" textLength="7.95" lengthAdjust="spacingAndGlyphs">6</text></g>
<g style="font-size:13.90px;"><text x="934.63" y="904.35" textLength="7.95" lengthAdjust="spacingAndGlyphs">8</text></g>
<g style="font-size:13.90px;"><text x="559.14" y="564.80" textLength="7.95" lengthAdjust="spacingAndGlyphs">5</text></g>
<g style="font-size:13.90px;"><text x="558.75" y="612.48" textLength="7.95" lengthAdjust="spacingAndGlyphs">4</text></g>
<g style="font-size:13.90px;"><text x="559.05" y="660.16" textLength="7.95" lengthAdjust="spacingAndGlyphs">3</text></g>
<g style="font-size:13.90px;"><text x="559.30" y="707.84" textLength="7.95" lengthAdjust="spacingAndGlyphs">2</text></g>
<g style="font-size:13.90px;"><text x="559.20" y="755.52" textLength="7.95" lengthAdjust="spacingAndGlyphs">1</text></g>
<g style="font-size:13.90px;"><text x="558.88" y="803.20" textLength="7.95" lengthAdjust="spacingAndGlyphs">0</text></g>
<g style="font-size:13.90px;"><text x="548.73" y="850.88" textLength="18.43" lengthAdjust="spacingAndGlyphs">−1</text></g>
<g style="font-size:24.00px;"><text x="578.97" y="523.15" textLength="15.91" lengthAdjust="spacingAndGlyphs">2</text><text x="602.83" y="523.15" textLength="141.43" lengthAdjust="spacingAndGlyphs">component</text><text x="752.20" y="523.15" textLength="49.63" lengthAdjust="spacingAndGlyphs">PCA</text><text x="809.78" y="523.15" textLength="9.02" lengthAdjust="spacingAndGlyphs">-</text><text x="826.75" y="523.15" textLength="67.20" lengthAdjust="spacingAndGlyphs">ATRC</text><text x="901.90" y="523.15" textLength="9.02" lengthAdjust="spacingAndGlyphs">-</text><text x="918.87" y="523.15" textLength="29.76" lengthAdjust="spacingAndGlyphs">Fe</text></g>
<g style="font-size:20.00px;"><text x="613.21" y="926.15" textLength="80.87" lengthAdjust="spacingAndGlyphs">Principal</text><text x="700.09" y="926.15" textLength="109.73" lengthAdjust="spacingAndGlyphs">Component</text><text x="815.83" y="926.15" textLength="19.40" lengthAdjust="spacingAndGlyphs">1(</text><text x="841.23" y="926.15" textLength="42.08" lengthAdjust="spacingAndGlyphs">46.9</text><text x="889.32" y="926.15" textLength="25.33" lengthAdjust="spacingAndGlyphs">%)</text></g>
<g transform="translate(537.60,0) rotate(-90)" style="font-size:20.00px"><text x="-864.05" y="0" textLength="80.87" lengthAdjust="spacingAndGlyphs">Principal</text><text x="-777.17" y="0" textLength="109.73" lengthAdjust="spacingAndGlyphs">Component</text><text x="-661.44" y="0" textLength="19.40" lengthAdjust="spacingAndGlyphs">2(</text><text x="-636.03" y="0" textLength="54.11" lengthAdjust="spacingAndGlyphs">22.54</text><text x="-575.92" y="0" textLength="25.33" lengthAdjust="spacingAndGlyphs">%)</text></g>
<g><circle cx="843.3" cy="995.4" r="3.1" fill="#ff7f0e"/><circle cx="880.0" cy="1048.1" r="3.1" fill="#ff7f0e"/><circle cx="761.3" cy="1068.1" r="3.1" fill="#ff7f0e"/><circle cx="807.0" cy="1110.9" r="3.1" fill="#ff7f0e"/><circle cx="764.2" cy="1142.1" r="3.1" fill="#1f77b4"/><circle cx="815.6" cy="1141.0" r="3.1" fill="#1f77b4"/><circle cx="916.4" cy="1163.4" r="3.1" fill="#ff7f0e"/><circle cx="832.3" cy="1168.5" r="3.1" fill="#1f77b4"/><circle cx="837.1" cy="1183.9" r="3.1" fill="#ff7f0e"/><circle cx="869.8" cy="1187.4" r="3.1" fill="#ff7f0e"/><circle cx="787.9" cy="1200.1" r="3.1" fill="#1f77b4"/><circle cx="741.1" cy="1211.3" r="3.1" fill="#1f77b4"/><circle cx="934.0" cy="1215.3" r="3.1" fill="#1f77b4"/><circle cx="805.5" cy="1226.5" r="3.1" fill="#1f77b4"/><circle cx="859.7" cy="1316.8" r="3.1" fill="#1f77b4"/><circle cx="677.3" cy="1124.7" r="3.1" fill="#1f77b4"/><circle cx="659.1" cy="1138.5" r="3.1" fill="#1f77b4"/><circle cx="663.5" cy="1139.9" r="3.1" fill="#ff7f0e"/><circle cx="678.5" cy="1137.3" r="3.1" fill="#1f77b4"/><circle cx="672.3" cy="1146.1" r="3.1" fill="#1f77b4"/><circle cx="700.5" cy="1142.4" r="3.1" fill="#1f77b4"/><circle cx="630.6" cy="1143.6" r="3.1" fill="#1f77b4"/><circle cx="606.6" cy="1149.9" r="3.1" fill="#1f77b4"/><circle cx="640.6" cy="1154.9" r="3.1" fill="#ff7f0e"/><circle cx="625.2" cy="1157.4" r="3.1" fill="#1f77b4"/><circle cx="629.6" cy="1157.0" r="3.1" fill="#1f77b4"/><circle cx="630.8" cy="1158.9" r="3.1" fill="#ff7f0e"/><circle cx="662.0" cy="1158.7" r="3.1" fill="#ff7f0e"/><circle cx="691.1" cy="1158.7" r="3.1" fill="#1f77b4"/><circle cx="693.6" cy="1165.0" r="3.1" fill="#1f77b4"/><circle cx="592.9" cy="1159.9" r="3.1" fill="#1f77b4"/><circle cx="605.1" cy="1162.4" r="3.1" fill="#1f77b4"/><circle cx="606.4" cy="1162.4" r="3.1" fill="#ff7f0e"/><circle cx="634.9" cy="1162.7" r="3.1" fill="#1f77b4"/><circle cx="617.0" cy="1166.5" r="3.1" fill="#1f77b4"/><circle cx="615.8" cy="1170.9" r="3.1" fill="#1f77b4"/><circle cx="620.8" cy="1175.0" r="3.1" fill="#1f77b4"/><circle cx="604.2" cy="1175.0" r="3.1" fill="#1f77b4"/><circle cx="616.8" cy="1181.3" r="3.1" fill="#1f77b4"/><circle cx="644.6" cy="1166.2" r="3.1" fill="#1f77b4"/><circle cx="645.9" cy="1166.5" r="3.1" fill="#ff7f0e"/><circle cx="650.9" cy="1166.2" r="3.1" fill="#1f77b4"/><circle cx="647.8" cy="1170.2" r="3.1" fill="#1f77b4"/><circle cx="644.4" cy="1173.7" r="3.1" fill="#1f77b4"/><circle cx="659.7" cy="1169.6" r="3.1" fill="#1f77b4"/><circle cx="663.5" cy="1166.5" r="3.1" fill="#1f77b4"/><circle cx="669.1" cy="1166.2" r="3.1" fill="#1f77b4"/><circle cx="672.3" cy="1169.0" r="3.1" fill="#1f77b4"/><circle cx="672.9" cy="1166.2" r="3.1" fill="#ff7f0e"/><circle cx="678.5" cy="1166.2" r="3.1" fill="#1f77b4"/><circle cx="683.6" cy="1173.7" r="3.1" fill="#1f77b4"/><circle cx="669.7" cy="1179.0" r="3.1" fill="#ff7f0e"/><circle cx="668.5" cy="1182.8" r="3.1" fill="#ff7f0e"/><circle cx="681.0" cy="1178.8" r="3.1" fill="#ff7f0e"/><circle cx="696.1" cy="1181.3" r="3.1" fill="#ff7f0e"/><circle cx="659.5" cy="1187.5" r="3.1" fill="#1f77b4"/><circle cx="677.3" cy="1190.1" r="3.1" fill="#1f77b4"/><circle cx="671.0" cy="1195.3" r="3.1" fill="#ff7f0e"/><circle cx="693.6" cy="1208.9" r="3.1" fill="#1f77b4"/><circle cx="737.4" cy="1144.8" r="3.1" fill="#1f77b4"/><circle cx="764.1" cy="1142.4" r="3.1" fill="#1f77b4"/><circle cx="722.6" cy="1151.2" r="3.1" fill="#1f77b4"/><circle cx="705.1" cy="1155.0" r="3.1" fill="#1f77b4"/><circle cx="712.6" cy="1158.7" r="3.1" fill="#1f77b4"/><circle cx="727.4" cy="1168.8" r="3.1" fill="#ff7f0e"/><circle cx="707.6" cy="1182.5" r="3.1" fill="#1f77b4"/><circle cx="775.4" cy="1172.6" r="3.1" fill="#1f77b4"/><circle cx="779.1" cy="1171.3" r="3.1" fill="#1f77b4"/><circle cx="769.1" cy="1175.9" r="3.1" fill="#1f77b4"/><circle cx="770.3" cy="1180.1" r="3.1" fill="#1f77b4"/><circle cx="786.7" cy="1173.8" r="3.1" fill="#1f77b4"/><circle cx="791.7" cy="1176.3" r="3.1" fill="#1f77b4"/><circle cx="725.1" cy="1198.9" r="3.1" fill="#1f77b4"/><circle cx="721.0" cy="1203.9" r="3.1" fill="#1f77b4"/><circle cx="693.8" cy="1209.0" r="3.1" fill="#1f77b4"/><circle cx="740.2" cy="1211.5" r="3.1" fill="#1f77b4"/><circle cx="723.9" cy="1216.5" r="3.1" fill="#1f77b4"/></g>
<g stroke="#bababa" stroke-width="1.25"><line x1="635.8" y1="978.9" x2="635.8" y2="1333.2"/><line x1="705.9" y1="978.9" x2="705.9" y2="1333.2"/><line x1="776.0" y1="978.9" x2="776.0" y2="1333.2"/><line x1="846.2" y1="978.9" x2="846.2" y2="1333.2"/><line x1="916.4" y1="978.9" x2="916.4" y2="1333.2"/><line x1="576.6" y1="1017.3" x2="951.5" y2="1017.3"/><line x1="576.6" y1="1091.7" x2="951.5" y2="1091.7"/><line x1="576.6" y1="1166.1" x2="951.5" y2="1166.1"/><line x1="576.6" y1="1240.5" x2="951.5" y2="1240.5"/><line x1="576.6" y1="1314.9" x2="951.5" y2="1314.9"/></g>
<rect x="583.5" y="985.7" width="132.0" height="60.0" rx="2.5" fill="#fff" fill-opacity="0.8" stroke="#d6d6d6" stroke-width="1"/>
<g style="font-size:13.40px;"><text x="612.25" y="1000.60" textLength="31.98" lengthAdjust="spacingAndGlyphs">Dose</text><text x="648.27" y="1000.60" textLength="39.64" lengthAdjust="spacingAndGlyphs">(mGy)</text></g>
<circle cx="600.8" cy="1016.9" r="3.2" fill="#1f77b4"/>
<g style="font-size:13.40px;"><text x="623.36" y="1020.20" textLength="8.08" lengthAdjust="spacingAndGlyphs">0</text></g>
<circle cx="600.8" cy="1035.3" r="3.2" fill="#ff7f0e"/>
<g style="font-size:13.40px;"><text x="622.80" y="1038.60" textLength="20.20" lengthAdjust="spacingAndGlyphs">10,</text><text x="647.04" y="1038.60" textLength="20.20" lengthAdjust="spacingAndGlyphs">50,</text><text x="671.27" y="1038.60" textLength="12.99" lengthAdjust="spacingAndGlyphs">or</text><text x="688.30" y="1038.60" textLength="24.24" lengthAdjust="spacingAndGlyphs">100</text></g>
<rect x="576.6" y="978.9" width="374.9" height="354.3" fill="none" stroke="#383838" stroke-width="1.25"/>
<g stroke="#383838" stroke-width="1.1"><line x1="635.8" y1="1333.2" x2="635.8" y2="1337.7"/><line x1="705.9" y1="1333.2" x2="705.9" y2="1337.7"/><line x1="776.0" y1="1333.2" x2="776.0" y2="1337.7"/><line x1="846.2" y1="1333.2" x2="846.2" y2="1337.7"/><line x1="916.4" y1="1333.2" x2="916.4" y2="1337.7"/><line x1="572.1" y1="1017.3" x2="576.6" y2="1017.3"/><line x1="572.1" y1="1091.7" x2="576.6" y2="1091.7"/><line x1="572.1" y1="1166.1" x2="576.6" y2="1166.1"/><line x1="572.1" y1="1240.5" x2="576.6" y2="1240.5"/><line x1="572.1" y1="1314.9" x2="576.6" y2="1314.9"/></g>
<g style="font-size:13.90px;"><text x="626.45" y="1353.20" textLength="18.43" lengthAdjust="spacingAndGlyphs">−1</text></g>
<g style="font-size:13.90px;"><text x="701.93" y="1353.20" textLength="7.95" lengthAdjust="spacingAndGlyphs">0</text></g>
<g style="font-size:13.90px;"><text x="771.96" y="1353.20" textLength="7.95" lengthAdjust="spacingAndGlyphs">1</text></g>
<g style="font-size:13.90px;"><text x="842.39" y="1353.20" textLength="7.95" lengthAdjust="spacingAndGlyphs">2</text></g>
<g style="font-size:13.90px;"><text x="912.40" y="1353.20" textLength="7.95" lengthAdjust="spacingAndGlyphs">3</text></g>
<g style="font-size:13.90px;"><text x="558.75" y="1021.80" textLength="7.95" lengthAdjust="spacingAndGlyphs">4</text></g>
<g style="font-size:13.90px;"><text x="559.30" y="1096.20" textLength="7.95" lengthAdjust="spacingAndGlyphs">2</text></g>
<g style="font-size:13.90px;"><text x="558.88" y="1170.60" textLength="7.95" lengthAdjust="spacingAndGlyphs">0</text></g>
<g style="font-size:13.90px;"><text x="548.82" y="1245.00" textLength="18.43" lengthAdjust="spacingAndGlyphs">−2</text></g>
<g style="font-size:13.90px;"><text x="548.28" y="1319.40" textLength="18.43" lengthAdjust="spacingAndGlyphs">−4</text></g>
<g style="font-size:24.00px;"><text x="584.05" y="972.00" textLength="15.91" lengthAdjust="spacingAndGlyphs">2</text><text x="607.90" y="972.00" textLength="141.43" lengthAdjust="spacingAndGlyphs">component</text><text x="757.28" y="972.00" textLength="49.63" lengthAdjust="spacingAndGlyphs">PCA</text><text x="814.86" y="972.00" textLength="9.02" lengthAdjust="spacingAndGlyphs">-</text><text x="831.83" y="972.00" textLength="67.20" lengthAdjust="spacingAndGlyphs">ATRC</text><text x="906.98" y="972.00" textLength="9.02" lengthAdjust="spacingAndGlyphs">-</text><text x="923.94" y="972.00" textLength="19.68" lengthAdjust="spacingAndGlyphs">O</text></g>
<g style="font-size:20.00px;"><text x="607.20" y="1375.00" textLength="80.87" lengthAdjust="spacingAndGlyphs">Principal</text><text x="694.08" y="1375.00" textLength="109.73" lengthAdjust="spacingAndGlyphs">Component</text><text x="809.81" y="1375.00" textLength="19.40" lengthAdjust="spacingAndGlyphs">1(</text><text x="835.22" y="1375.00" textLength="54.11" lengthAdjust="spacingAndGlyphs">31.72</text><text x="895.33" y="1375.00" textLength="25.33" lengthAdjust="spacingAndGlyphs">%)</text></g>
<g transform="translate(537.60,0) rotate(-90)" style="font-size:20.00px"><text x="-1312.90" y="0" textLength="80.87" lengthAdjust="spacingAndGlyphs">Principal</text><text x="-1226.02" y="0" textLength="109.73" lengthAdjust="spacingAndGlyphs">Component</text><text x="-1110.29" y="0" textLength="19.40" lengthAdjust="spacingAndGlyphs">2(</text><text x="-1084.88" y="0" textLength="54.11" lengthAdjust="spacingAndGlyphs">25.71</text><text x="-1024.77" y="0" textLength="25.33" lengthAdjust="spacingAndGlyphs">%)</text></g>
<g><circle cx="642.6" cy="1664.9" r="3.1" fill="#1f77b4"/><circle cx="625.8" cy="1666.9" r="3.1" fill="#1f77b4"/><circle cx="664.5" cy="1662.6" r="3.1" fill="#1f77b4"/><circle cx="652.7" cy="1674.1" r="3.1" fill="#1f77b4"/><circle cx="623.9" cy="1691.0" r="3.1" fill="#1f77b4"/><circle cx="655.3" cy="1681.6" r="3.1" fill="#1f77b4"/><circle cx="668.9" cy="1686.8" r="3.1" fill="#1f77b4"/><circle cx="678.3" cy="1687.9" r="3.1" fill="#1f77b4"/><circle cx="663.2" cy="1698.3" r="3.1" fill="#1f77b4"/><circle cx="622.9" cy="1696.2" r="3.1" fill="#1f77b4"/><circle cx="656.9" cy="1703.7" r="3.1" fill="#1f77b4"/><circle cx="663.4" cy="1699.3" r="3.1" fill="#1f77b4"/><circle cx="627.0" cy="1671.0" r="3.1" fill="#ff7f0e"/><circle cx="633.0" cy="1671.0" r="3.1" fill="#ff7f0e"/><circle cx="640.0" cy="1671.0" r="3.1" fill="#ff7f0e"/><circle cx="646.0" cy="1671.0" r="3.1" fill="#ff7f0e"/><circle cx="651.0" cy="1671.0" r="3.1" fill="#ff7f0e"/><circle cx="660.0" cy="1671.0" r="3.1" fill="#ff7f0e"/><circle cx="664.0" cy="1671.0" r="3.1" fill="#ff7f0e"/><circle cx="625.0" cy="1676.0" r="3.1" fill="#ff7f0e"/><circle cx="631.0" cy="1676.0" r="3.1" fill="#ff7f0e"/><circle cx="648.0" cy="1676.0" r="3.1" fill="#ff7f0e"/><circle cx="655.0" cy="1676.0" r="3.1" fill="#ff7f0e"/><circle cx="661.0" cy="1676.0" r="3.1" fill="#ff7f0e"/><circle cx="667.0" cy="1676.0" r="3.1" fill="#ff7f0e"/><circle cx="623.0" cy="1681.0" r="3.1" fill="#ff7f0e"/><circle cx="628.0" cy="1681.0" r="3.1" fill="#ff7f0e"/><circle cx="633.0" cy="1681.0" r="3.1" fill="#ff7f0e"/><circle cx="638.0" cy="1681.0" r="3.1" fill="#ff7f0e"/><circle cx="643.0" cy="1681.0" r="3.1" fill="#ff7f0e"/><circle cx="648.0" cy="1681.0" r="3.1" fill="#ff7f0e"/><circle cx="653.0" cy="1681.0" r="3.1" fill="#ff7f0e"/><circle cx="658.0" cy="1681.0" r="3.1" fill="#ff7f0e"/><circle cx="663.0" cy="1681.0" r="3.1" fill="#ff7f0e"/><circle cx="668.0" cy="1681.0" r="3.1" fill="#ff7f0e"/><circle cx="623.0" cy="1686.0" r="3.1" fill="#ff7f0e"/><circle cx="628.0" cy="1686.0" r="3.1" fill="#ff7f0e"/><circle cx="633.0" cy="1686.0" r="3.1" fill="#ff7f0e"/><circle cx="638.0" cy="1686.0" r="3.1" fill="#ff7f0e"/><circle cx="643.0" cy="1686.0" r="3.1" fill="#ff7f0e"/><circle cx="648.0" cy="1686.0" r="3.1" fill="#ff7f0e"/><circle cx="653.0" cy="1686.0" r="3.1" fill="#ff7f0e"/><circle cx="658.0" cy="1686.0" r="3.1" fill="#ff7f0e"/><circle cx="663.0" cy="1686.0" r="3.1" fill="#ff7f0e"/><circle cx="668.0" cy="1686.0" r="3.1" fill="#ff7f0e"/><circle cx="626.0" cy="1690.0" r="3.1" fill="#ff7f0e"/><circle cx="632.0" cy="1690.0" r="3.1" fill="#ff7f0e"/><circle cx="638.0" cy="1690.0" r="3.1" fill="#ff7f0e"/><circle cx="644.0" cy="1690.0" r="3.1" fill="#ff7f0e"/><circle cx="650.0" cy="1690.0" r="3.1" fill="#ff7f0e"/><circle cx="656.0" cy="1690.0" r="3.1" fill="#ff7f0e"/><circle cx="662.0" cy="1690.0" r="3.1" fill="#ff7f0e"/><circle cx="742.5" cy="1443.6" r="3.1" fill="#ff7f0e"/><circle cx="808.6" cy="1483.1" r="3.1" fill="#ff7f0e"/><circle cx="686.1" cy="1519.2" r="3.1" fill="#1f77b4"/><circle cx="666.7" cy="1525.8" r="3.1" fill="#ff7f0e"/><circle cx="704.9" cy="1608.3" r="3.1" fill="#1f77b4"/><circle cx="809.2" cy="1607.4" r="3.1" fill="#1f77b4"/><circle cx="798.9" cy="1637.5" r="3.1" fill="#ff7f0e"/><circle cx="908.7" cy="1658.7" r="3.1" fill="#ff7f0e"/><circle cx="805.6" cy="1662.6" r="3.1" fill="#ff7f0e"/><circle cx="813.2" cy="1719.0" r="3.1" fill="#ff7f0e"/><circle cx="824.4" cy="1744.2" r="3.1" fill="#ff7f0e"/><circle cx="795.6" cy="1765.8" r="3.1" fill="#ff7f0e"/><circle cx="907.5" cy="1735.4" r="3.1" fill="#ff7f0e"/><circle cx="928.7" cy="1740.3" r="3.1" fill="#ff7f0e"/><circle cx="933.9" cy="1756.7" r="3.1" fill="#ff7f0e"/><circle cx="730.1" cy="1746.3" r="3.1" fill="#ff7f0e"/><circle cx="668.6" cy="1628.8" r="3.1" fill="#1f77b4"/><circle cx="655.8" cy="1632.6" r="3.1" fill="#1f77b4"/><circle cx="663.4" cy="1638.7" r="3.1" fill="#ff7f0e"/><circle cx="660.0" cy="1643.9" r="3.1" fill="#1f77b4"/><circle cx="662.1" cy="1646.5" r="3.1" fill="#ff7f0e"/><circle cx="667.3" cy="1646.5" r="3.1" fill="#1f77b4"/><circle cx="639.4" cy="1645.2" r="3.1" fill="#1f77b4"/><circle cx="640.7" cy="1652.8" r="3.1" fill="#ff7f0e"/><circle cx="631.6" cy="1656.5" r="3.1" fill="#ff7f0e"/><circle cx="639.4" cy="1660.1" r="3.1" fill="#ff7f0e"/><circle cx="623.7" cy="1662.6" r="3.1" fill="#ff7f0e"/><circle cx="673.4" cy="1667.8" r="3.1" fill="#ff7f0e"/><circle cx="659.5" cy="1668.5" r="3.1" fill="#ff7f0e"/><circle cx="663.7" cy="1672.2" r="3.1" fill="#ff7f0e"/><circle cx="648.0" cy="1671.7" r="3.1" fill="#ff7f0e"/><circle cx="640.1" cy="1669.6" r="3.1" fill="#ff7f0e"/><circle cx="632.8" cy="1671.1" r="3.1" fill="#ff7f0e"/><circle cx="626.5" cy="1672.7" r="3.1" fill="#ff7f0e"/><circle cx="616.6" cy="1672.2" r="3.1" fill="#ff7f0e"/><circle cx="611.4" cy="1673.2" r="3.1" fill="#ff7f0e"/><circle cx="608.2" cy="1675.3" r="3.1" fill="#ff7f0e"/><circle cx="612.4" cy="1677.9" r="3.1" fill="#ff7f0e"/><circle cx="598.0" cy="1677.6" r="3.1" fill="#1f77b4"/><circle cx="605.4" cy="1682.1" r="3.1" fill="#1f77b4"/><circle cx="593.1" cy="1686.6" r="3.1" fill="#1f77b4"/><circle cx="605.1" cy="1686.8" r="3.1" fill="#1f77b4"/><circle cx="611.9" cy="1686.8" r="3.1" fill="#ff7f0e"/><circle cx="599.9" cy="1691.5" r="3.1" fill="#ff7f0e"/><circle cx="605.1" cy="1693.5" r="3.1" fill="#ff7f0e"/><circle cx="609.8" cy="1693.0" r="3.1" fill="#ff7f0e"/><circle cx="625.0" cy="1680.5" r="3.1" fill="#ff7f0e"/><circle cx="630.2" cy="1682.6" r="3.1" fill="#ff7f0e"/><circle cx="635.4" cy="1680.5" r="3.1" fill="#ff7f0e"/><circle cx="640.7" cy="1681.6" r="3.1" fill="#ff7f0e"/><circle cx="645.9" cy="1680.5" r="3.1" fill="#ff7f0e"/><circle cx="651.1" cy="1682.6" r="3.1" fill="#ff7f0e"/><circle cx="655.3" cy="1680.5" r="3.1" fill="#ff7f0e"/><circle cx="618.7" cy="1687.9" r="3.1" fill="#ff7f0e"/><circle cx="627.1" cy="1686.8" r="3.1" fill="#ff7f0e"/><circle cx="632.3" cy="1688.9" r="3.1" fill="#ff7f0e"/><circle cx="638.6" cy="1690.0" r="3.1" fill="#ff7f0e"/><circle cx="644.9" cy="1687.9" r="3.1" fill="#ff7f0e"/><circle cx="651.1" cy="1686.8" r="3.1" fill="#ff7f0e"/><circle cx="653.2" cy="1690.0" r="3.1" fill="#ff7f0e"/><circle cx="659.5" cy="1690.0" r="3.1" fill="#ff7f0e"/><circle cx="663.7" cy="1686.8" r="3.1" fill="#ff7f0e"/><circle cx="667.9" cy="1683.7" r="3.1" fill="#ff7f0e"/><circle cx="668.9" cy="1680.5" r="3.1" fill="#ff7f0e"/><circle cx="674.1" cy="1687.9" r="3.1" fill="#ff7f0e"/><circle cx="660.5" cy="1679.5" r="3.1" fill="#ff7f0e"/><circle cx="663.7" cy="1680.5" r="3.1" fill="#ff7f0e"/><circle cx="679.4" cy="1679.5" r="3.1" fill="#ff7f0e"/><circle cx="595.2" cy="1699.4" r="3.1" fill="#1f77b4"/><circle cx="604.1" cy="1697.3" r="3.1" fill="#1f77b4"/><circle cx="644.9" cy="1697.2" r="3.1" fill="#ff7f0e"/><circle cx="653.2" cy="1696.2" r="3.1" fill="#ff7f0e"/><circle cx="674.7" cy="1696.7" r="3.1" fill="#ff7f0e"/><circle cx="617.7" cy="1699.3" r="3.1" fill="#ff7f0e"/><circle cx="627.1" cy="1700.3" r="3.1" fill="#ff7f0e"/><circle cx="611.9" cy="1708.2" r="3.1" fill="#1f77b4"/><circle cx="636.0" cy="1710.6" r="3.1" fill="#1f77b4"/><circle cx="649.4" cy="1706.6" r="3.1" fill="#ff7f0e"/><circle cx="659.7" cy="1708.2" r="3.1" fill="#ff7f0e"/><circle cx="658.2" cy="1719.4" r="3.1" fill="#ff7f0e"/><circle cx="674.7" cy="1705.4" r="3.1" fill="#1f77b4"/><circle cx="679.4" cy="1714.5" r="3.1" fill="#1f77b4"/><circle cx="679.4" cy="1724.4" r="3.1" fill="#ff7f0e"/><circle cx="706.4" cy="1638.6" r="3.1" fill="#1f77b4"/><circle cx="703.5" cy="1641.6" r="3.1" fill="#ff7f0e"/><circle cx="714.9" cy="1656.4" r="3.1" fill="#ff7f0e"/><circle cx="708.9" cy="1661.2" r="3.1" fill="#1f77b4"/><circle cx="701.1" cy="1661.4" r="3.1" fill="#ff7f0e"/><circle cx="694.9" cy="1665.2" r="3.1" fill="#ff7f0e"/><circle cx="706.1" cy="1665.2" r="3.1" fill="#ff7f0e"/><circle cx="717.4" cy="1664.6" r="3.1" fill="#1f77b4"/><circle cx="717.7" cy="1667.7" r="3.1" fill="#1f77b4"/><circle cx="726.5" cy="1661.4" r="3.1" fill="#1f77b4"/><circle cx="731.5" cy="1666.7" r="3.1" fill="#1f77b4"/><circle cx="740.3" cy="1669.0" r="3.1" fill="#1f77b4"/><circle cx="751.6" cy="1672.7" r="3.1" fill="#ff7f0e"/><circle cx="767.9" cy="1662.7" r="3.1" fill="#1f77b4"/><circle cx="776.7" cy="1674.0" r="3.1" fill="#ff7f0e"/><circle cx="788.0" cy="1662.7" r="3.1" fill="#ff7f0e"/><circle cx="673.5" cy="1667.7" r="3.1" fill="#ff7f0e"/><circle cx="684.8" cy="1669.0" r="3.1" fill="#ff7f0e"/><circle cx="712.7" cy="1674.0" r="3.1" fill="#ff7f0e"/><circle cx="734.0" cy="1675.2" r="3.1" fill="#ff7f0e"/><circle cx="683.2" cy="1680.2" r="3.1" fill="#1f77b4"/><circle cx="681.3" cy="1679.0" r="3.1" fill="#ff7f0e"/><circle cx="691.1" cy="1679.0" r="3.1" fill="#ff7f0e"/><circle cx="705.1" cy="1682.8" r="3.1" fill="#ff7f0e"/><circle cx="710.2" cy="1680.9" r="3.1" fill="#ff7f0e"/><circle cx="721.2" cy="1681.5" r="3.1" fill="#ff7f0e"/><circle cx="740.3" cy="1684.0" r="3.1" fill="#ff7f0e"/><circle cx="766.6" cy="1684.0" r="3.1" fill="#1f77b4"/><circle cx="682.6" cy="1685.3" r="3.1" fill="#ff7f0e"/><circle cx="687.6" cy="1685.3" r="3.1" fill="#ff7f0e"/><circle cx="673.5" cy="1687.8" r="3.1" fill="#ff7f0e"/><circle cx="697.4" cy="1692.8" r="3.1" fill="#1f77b4"/><circle cx="707.4" cy="1695.3" r="3.1" fill="#1f77b4"/><circle cx="727.5" cy="1691.8" r="3.1" fill="#1f77b4"/><circle cx="752.6" cy="1692.8" r="3.1" fill="#ff7f0e"/><circle cx="675.0" cy="1696.6" r="3.1" fill="#ff7f0e"/><circle cx="686.1" cy="1694.1" r="3.1" fill="#ff7f0e"/><circle cx="683.8" cy="1701.0" r="3.1" fill="#1f77b4"/><circle cx="683.8" cy="1697.8" r="3.1" fill="#ff7f0e"/><circle cx="675.0" cy="1705.6" r="3.1" fill="#1f77b4"/><circle cx="727.7" cy="1716.9" r="3.1" fill="#ff7f0e"/><circle cx="756.6" cy="1720.4" r="3.1" fill="#ff7f0e"/><circle cx="727.7" cy="1730.5" r="3.1" fill="#ff7f0e"/><circle cx="727.7" cy="1734.8" r="3.1" fill="#ff7f0e"/></g>
<g stroke="#bababa" stroke-width="1.25"><line x1="619.9" y1="1427.8" x2="619.9" y2="1782.1"/><line x1="673.0" y1="1427.8" x2="673.0" y2="1782.1"/><line x1="726.1" y1="1427.8" x2="726.1" y2="1782.1"/><line x1="779.2" y1="1427.8" x2="779.2" y2="1782.1"/><line x1="832.3" y1="1427.8" x2="832.3" y2="1782.1"/><line x1="885.4" y1="1427.8" x2="885.4" y2="1782.1"/><line x1="938.5" y1="1427.8" x2="938.5" y2="1782.1"/><line x1="576.6" y1="1465.5" x2="951.5" y2="1465.5"/><line x1="576.6" y1="1536.5" x2="951.5" y2="1536.5"/><line x1="576.6" y1="1607.5" x2="951.5" y2="1607.5"/><line x1="576.6" y1="1678.5" x2="951.5" y2="1678.5"/><line x1="576.6" y1="1749.5" x2="951.5" y2="1749.5"/></g>
<rect x="811.0" y="1434.1" width="134.3" height="60.5" rx="2.5" fill="#fff" fill-opacity="0.8" stroke="#d6d6d6" stroke-width="1"/>
<g style="font-size:13.40px;"><text x="839.75" y="1449.00" textLength="31.98" lengthAdjust="spacingAndGlyphs">Dose</text><text x="875.77" y="1449.00" textLength="39.64" lengthAdjust="spacingAndGlyphs">(mGy)</text></g>
<circle cx="828.3" cy="1465.3" r="3.2" fill="#1f77b4"/>
<g style="font-size:13.40px;"><text x="850.86" y="1468.60" textLength="8.08" lengthAdjust="spacingAndGlyphs">0</text></g>
<circle cx="828.3" cy="1483.7" r="3.2" fill="#ff7f0e"/>
<g style="font-size:13.40px;"><text x="850.30" y="1487.00" textLength="20.20" lengthAdjust="spacingAndGlyphs">10,</text><text x="874.54" y="1487.00" textLength="20.20" lengthAdjust="spacingAndGlyphs">50,</text><text x="898.77" y="1487.00" textLength="12.99" lengthAdjust="spacingAndGlyphs">or</text><text x="915.80" y="1487.00" textLength="24.24" lengthAdjust="spacingAndGlyphs">100</text></g>
<rect x="576.6" y="1427.8" width="374.9" height="354.3" fill="none" stroke="#383838" stroke-width="1.25"/>
<g stroke="#383838" stroke-width="1.1"><line x1="619.9" y1="1782.1" x2="619.9" y2="1786.6"/><line x1="673.0" y1="1782.1" x2="673.0" y2="1786.6"/><line x1="726.1" y1="1782.1" x2="726.1" y2="1786.6"/><line x1="779.2" y1="1782.1" x2="779.2" y2="1786.6"/><line x1="832.3" y1="1782.1" x2="832.3" y2="1786.6"/><line x1="885.4" y1="1782.1" x2="885.4" y2="1786.6"/><line x1="938.5" y1="1782.1" x2="938.5" y2="1786.6"/><line x1="572.1" y1="1465.5" x2="576.6" y2="1465.5"/><line x1="572.1" y1="1536.5" x2="576.6" y2="1536.5"/><line x1="572.1" y1="1607.5" x2="576.6" y2="1607.5"/><line x1="572.1" y1="1678.5" x2="576.6" y2="1678.5"/><line x1="572.1" y1="1749.5" x2="576.6" y2="1749.5"/></g>
<g style="font-size:13.90px;"><text x="610.60" y="1802.05" textLength="18.43" lengthAdjust="spacingAndGlyphs">−1</text></g>
<g style="font-size:13.90px;"><text x="669.03" y="1802.05" textLength="7.95" lengthAdjust="spacingAndGlyphs">0</text></g>
<g style="font-size:13.90px;"><text x="722.01" y="1802.05" textLength="7.95" lengthAdjust="spacingAndGlyphs">1</text></g>
<g style="font-size:13.90px;"><text x="775.39" y="1802.05" textLength="7.95" lengthAdjust="spacingAndGlyphs">2</text></g>
<g style="font-size:13.90px;"><text x="828.35" y="1802.05" textLength="7.95" lengthAdjust="spacingAndGlyphs">3</text></g>
<g style="font-size:13.90px;"><text x="881.47" y="1802.05" textLength="7.95" lengthAdjust="spacingAndGlyphs">4</text></g>
<g style="font-size:13.90px;"><text x="934.59" y="1802.05" textLength="7.95" lengthAdjust="spacingAndGlyphs">5</text></g>
<g style="font-size:13.90px;"><text x="558.83" y="1470.00" textLength="7.95" lengthAdjust="spacingAndGlyphs">6</text></g>
<g style="font-size:13.90px;"><text x="558.75" y="1541.00" textLength="7.95" lengthAdjust="spacingAndGlyphs">4</text></g>
<g style="font-size:13.90px;"><text x="559.30" y="1612.00" textLength="7.95" lengthAdjust="spacingAndGlyphs">2</text></g>
<g style="font-size:13.90px;"><text x="558.88" y="1683.00" textLength="7.95" lengthAdjust="spacingAndGlyphs">0</text></g>
<g style="font-size:13.90px;"><text x="548.82" y="1754.00" textLength="18.43" lengthAdjust="spacingAndGlyphs">−2</text></g>
<g style="font-size:24.00px;"><text x="582.95" y="1420.85" textLength="15.91" lengthAdjust="spacingAndGlyphs">2</text><text x="606.81" y="1420.85" textLength="141.43" lengthAdjust="spacingAndGlyphs">component</text><text x="756.18" y="1420.85" textLength="49.63" lengthAdjust="spacingAndGlyphs">PCA</text><text x="813.76" y="1420.85" textLength="9.02" lengthAdjust="spacingAndGlyphs">-</text><text x="830.73" y="1420.85" textLength="67.20" lengthAdjust="spacingAndGlyphs">ATRC</text><text x="905.88" y="1420.85" textLength="9.02" lengthAdjust="spacingAndGlyphs">-</text><text x="922.85" y="1420.85" textLength="22.81" lengthAdjust="spacingAndGlyphs">Si</text></g>
<g style="font-size:20.00px;"><text x="607.20" y="1823.85" textLength="80.87" lengthAdjust="spacingAndGlyphs">Principal</text><text x="694.08" y="1823.85" textLength="109.73" lengthAdjust="spacingAndGlyphs">Component</text><text x="809.81" y="1823.85" textLength="19.40" lengthAdjust="spacingAndGlyphs">1(</text><text x="835.22" y="1823.85" textLength="54.11" lengthAdjust="spacingAndGlyphs">34.32</text><text x="895.33" y="1823.85" textLength="25.33" lengthAdjust="spacingAndGlyphs">%)</text></g>
<g transform="translate(537.60,0) rotate(-90)" style="font-size:20.00px"><text x="-1761.75" y="0" textLength="80.87" lengthAdjust="spacingAndGlyphs">Principal</text><text x="-1674.87" y="0" textLength="109.73" lengthAdjust="spacingAndGlyphs">Component</text><text x="-1559.14" y="0" textLength="19.40" lengthAdjust="spacingAndGlyphs">2(</text><text x="-1533.73" y="0" textLength="54.11" lengthAdjust="spacingAndGlyphs">26.94</text><text x="-1473.62" y="0" textLength="25.33" lengthAdjust="spacingAndGlyphs">%)</text></g>
<g><circle cx="753.9" cy="1892.3" r="3.1" fill="#1f77b4"/><circle cx="708.6" cy="1902.8" r="3.1" fill="#ff7f0e"/><circle cx="798.1" cy="1989.3" r="3.1" fill="#ff7f0e"/><circle cx="742.6" cy="1999.5" r="3.1" fill="#1f77b4"/><circle cx="718.6" cy="2005.8" r="3.1" fill="#1f77b4"/><circle cx="770.3" cy="2013.4" r="3.1" fill="#1f77b4"/><circle cx="709.4" cy="2018.1" r="3.1" fill="#ff7f0e"/><circle cx="745.2" cy="2029.6" r="3.1" fill="#1f77b4"/><circle cx="804.3" cy="2039.5" r="3.1" fill="#1f77b4"/><circle cx="693.4" cy="2033.3" r="3.1" fill="#ff7f0e"/><circle cx="683.6" cy="2044.6" r="3.1" fill="#ff7f0e"/><circle cx="651.0" cy="2048.4" r="3.1" fill="#1f77b4"/><circle cx="670.8" cy="2048.4" r="3.1" fill="#1f77b4"/><circle cx="674.8" cy="2047.4" r="3.1" fill="#1f77b4"/><circle cx="696.3" cy="2047.2" r="3.1" fill="#1f77b4"/><circle cx="706.0" cy="2052.1" r="3.1" fill="#ff7f0e"/><circle cx="692.1" cy="2053.4" r="3.1" fill="#ff7f0e"/><circle cx="692.1" cy="2055.9" r="3.1" fill="#ff7f0e"/><circle cx="777.7" cy="2054.7" r="3.1" fill="#ff7f0e"/><circle cx="769.0" cy="2057.3" r="3.1" fill="#1f77b4"/><circle cx="655.7" cy="2063.5" r="3.1" fill="#1f77b4"/><circle cx="669.5" cy="2063.5" r="3.1" fill="#1f77b4"/><circle cx="675.8" cy="2061.0" r="3.1" fill="#ff7f0e"/><circle cx="672.0" cy="2066.0" r="3.1" fill="#ff7f0e"/><circle cx="687.5" cy="2062.2" r="3.1" fill="#1f77b4"/><circle cx="684.9" cy="2065.1" r="3.1" fill="#ff7f0e"/><circle cx="699.7" cy="2067.2" r="3.1" fill="#ff7f0e"/><circle cx="641.9" cy="2068.5" r="3.1" fill="#1f77b4"/><circle cx="644.7" cy="2069.7" r="3.1" fill="#1f77b4"/><circle cx="677.7" cy="2069.1" r="3.1" fill="#1f77b4"/><circle cx="679.6" cy="2072.3" r="3.1" fill="#1f77b4"/><circle cx="687.4" cy="2073.5" r="3.1" fill="#1f77b4"/><circle cx="693.6" cy="2074.8" r="3.1" fill="#1f77b4"/><circle cx="700.9" cy="2073.5" r="3.1" fill="#ff7f0e"/><circle cx="709.7" cy="2075.0" r="3.1" fill="#1f77b4"/><circle cx="718.7" cy="2072.5" r="3.1" fill="#1f77b4"/><circle cx="764.1" cy="2082.1" r="3.1" fill="#1f77b4"/><circle cx="746.3" cy="2086.3" r="3.1" fill="#1f77b4"/><circle cx="804.3" cy="2086.3" r="3.1" fill="#1f77b4"/><circle cx="913.6" cy="2084.5" r="3.1" fill="#1f77b4"/><circle cx="696.1" cy="2081.0" r="3.1" fill="#1f77b4"/><circle cx="650.7" cy="2082.3" r="3.1" fill="#ff7f0e"/><circle cx="662.0" cy="2090.1" r="3.1" fill="#1f77b4"/><circle cx="680.8" cy="2088.6" r="3.1" fill="#1f77b4"/><circle cx="689.9" cy="2086.1" r="3.1" fill="#1f77b4"/><circle cx="690.9" cy="2090.5" r="3.1" fill="#1f77b4"/><circle cx="685.9" cy="2093.6" r="3.1" fill="#1f77b4"/><circle cx="690.9" cy="2094.8" r="3.1" fill="#ff7f0e"/><circle cx="682.1" cy="2097.4" r="3.1" fill="#ff7f0e"/><circle cx="703.7" cy="2088.6" r="3.1" fill="#1f77b4"/><circle cx="708.7" cy="2096.1" r="3.1" fill="#1f77b4"/><circle cx="705.3" cy="2098.8" r="3.1" fill="#1f77b4"/><circle cx="654.5" cy="2100.1" r="3.1" fill="#1f77b4"/><circle cx="673.3" cy="2101.3" r="3.1" fill="#1f77b4"/><circle cx="724.8" cy="2099.9" r="3.1" fill="#1f77b4"/><circle cx="625.7" cy="2097.7" r="3.1" fill="#ff7f0e"/><circle cx="649.6" cy="2106.4" r="3.1" fill="#1f77b4"/><circle cx="663.2" cy="2105.2" r="3.1" fill="#ff7f0e"/><circle cx="662.1" cy="2112.7" r="3.1" fill="#1f77b4"/><circle cx="699.9" cy="2120.2" r="3.1" fill="#1f77b4"/><circle cx="667.4" cy="2121.4" r="3.1" fill="#ff7f0e"/><circle cx="670.8" cy="2125.8" r="3.1" fill="#ff7f0e"/><circle cx="677.3" cy="2125.2" r="3.1" fill="#ff7f0e"/><circle cx="663.3" cy="2132.7" r="3.1" fill="#ff7f0e"/><circle cx="808.0" cy="2103.6" r="3.1" fill="#1f77b4"/><circle cx="934.0" cy="2112.2" r="3.1" fill="#1f77b4"/><circle cx="821.9" cy="2118.5" r="3.1" fill="#1f77b4"/><circle cx="752.8" cy="2128.7" r="3.1" fill="#1f77b4"/><circle cx="833.4" cy="2132.6" r="3.1" fill="#1f77b4"/><circle cx="924.9" cy="2133.7" r="3.1" fill="#ff7f0e"/><circle cx="707.6" cy="2155.1" r="3.1" fill="#1f77b4"/><circle cx="698.7" cy="2161.8" r="3.1" fill="#1f77b4"/><circle cx="753.9" cy="2153.8" r="3.1" fill="#1f77b4"/><circle cx="837.3" cy="2153.8" r="3.1" fill="#1f77b4"/><circle cx="891.2" cy="2157.7" r="3.1" fill="#ff7f0e"/><circle cx="629.3" cy="2157.9" r="3.1" fill="#1f77b4"/><circle cx="635.7" cy="2161.7" r="3.1" fill="#1f77b4"/><circle cx="751.5" cy="2191.5" r="3.1" fill="#1f77b4"/><circle cx="777.7" cy="2198.0" r="3.1" fill="#1f77b4"/><circle cx="751.5" cy="2211.8" r="3.1" fill="#ff7f0e"/><circle cx="603.0" cy="2189.3" r="3.1" fill="#ff7f0e"/><circle cx="592.8" cy="2214.4" r="3.1" fill="#ff7f0e"/></g>
<g stroke="#bababa" stroke-width="1.25"><line x1="589.0" y1="1876.6" x2="589.0" y2="2230.9"/><line x1="650.8" y1="1876.6" x2="650.8" y2="2230.9"/><line x1="712.6" y1="1876.6" x2="712.6" y2="2230.9"/><line x1="774.4" y1="1876.6" x2="774.4" y2="2230.9"/><line x1="836.2" y1="1876.6" x2="836.2" y2="2230.9"/><line x1="898.0" y1="1876.6" x2="898.0" y2="2230.9"/><line x1="576.6" y1="1924.0" x2="951.5" y2="1924.0"/><line x1="576.6" y1="1978.5" x2="951.5" y2="1978.5"/><line x1="576.6" y1="2033.0" x2="951.5" y2="2033.0"/><line x1="576.6" y1="2087.5" x2="951.5" y2="2087.5"/><line x1="576.6" y1="2142.0" x2="951.5" y2="2142.0"/><line x1="576.6" y1="2196.5" x2="951.5" y2="2196.5"/></g>
<rect x="811.0" y="1883.3" width="134.3" height="60.0" rx="2.5" fill="#fff" fill-opacity="0.8" stroke="#d6d6d6" stroke-width="1"/>
<g style="font-size:13.40px;"><text x="839.75" y="1898.20" textLength="31.98" lengthAdjust="spacingAndGlyphs">Dose</text><text x="875.77" y="1898.20" textLength="39.64" lengthAdjust="spacingAndGlyphs">(mGy)</text></g>
<circle cx="828.3" cy="1914.5" r="3.2" fill="#1f77b4"/>
<g style="font-size:13.40px;"><text x="850.86" y="1917.80" textLength="8.08" lengthAdjust="spacingAndGlyphs">0</text></g>
<circle cx="828.3" cy="1932.9" r="3.2" fill="#ff7f0e"/>
<g style="font-size:13.40px;"><text x="850.30" y="1936.20" textLength="20.20" lengthAdjust="spacingAndGlyphs">10,</text><text x="874.54" y="1936.20" textLength="20.20" lengthAdjust="spacingAndGlyphs">50,</text><text x="898.77" y="1936.20" textLength="12.99" lengthAdjust="spacingAndGlyphs">or</text><text x="915.80" y="1936.20" textLength="24.24" lengthAdjust="spacingAndGlyphs">100</text></g>
<rect x="576.6" y="1876.6" width="374.9" height="354.3" fill="none" stroke="#383838" stroke-width="1.25"/>
<g stroke="#383838" stroke-width="1.1"><line x1="589.0" y1="2230.9" x2="589.0" y2="2235.4"/><line x1="650.8" y1="2230.9" x2="650.8" y2="2235.4"/><line x1="712.6" y1="2230.9" x2="712.6" y2="2235.4"/><line x1="774.4" y1="2230.9" x2="774.4" y2="2235.4"/><line x1="836.2" y1="2230.9" x2="836.2" y2="2235.4"/><line x1="898.0" y1="2230.9" x2="898.0" y2="2235.4"/><line x1="572.1" y1="1924.0" x2="576.6" y2="1924.0"/><line x1="572.1" y1="1978.5" x2="576.6" y2="1978.5"/><line x1="572.1" y1="2033.0" x2="576.6" y2="2033.0"/><line x1="572.1" y1="2087.5" x2="576.6" y2="2087.5"/><line x1="572.1" y1="2142.0" x2="576.6" y2="2142.0"/><line x1="572.1" y1="2196.5" x2="576.6" y2="2196.5"/></g>
<g style="font-size:13.90px;"><text x="579.75" y="2250.90" textLength="18.43" lengthAdjust="spacingAndGlyphs">−2</text></g>
<g style="font-size:13.90px;"><text x="641.50" y="2250.90" textLength="18.43" lengthAdjust="spacingAndGlyphs">−1</text></g>
<g style="font-size:13.90px;"><text x="708.63" y="2250.90" textLength="7.95" lengthAdjust="spacingAndGlyphs">0</text></g>
<g style="font-size:13.90px;"><text x="770.31" y="2250.90" textLength="7.95" lengthAdjust="spacingAndGlyphs">1</text></g>
<g style="font-size:13.90px;"><text x="832.39" y="2250.90" textLength="7.95" lengthAdjust="spacingAndGlyphs">2</text></g>
<g style="font-size:13.90px;"><text x="894.05" y="2250.90" textLength="7.95" lengthAdjust="spacingAndGlyphs">3</text></g>
<g style="font-size:13.90px;"><text x="559.05" y="1928.50" textLength="7.95" lengthAdjust="spacingAndGlyphs">3</text></g>
<g style="font-size:13.90px;"><text x="559.30" y="1983.00" textLength="7.95" lengthAdjust="spacingAndGlyphs">2</text></g>
<g style="font-size:13.90px;"><text x="559.20" y="2037.50" textLength="7.95" lengthAdjust="spacingAndGlyphs">1</text></g>
<g style="font-size:13.90px;"><text x="558.88" y="2092.00" textLength="7.95" lengthAdjust="spacingAndGlyphs">0</text></g>
<g style="font-size:13.90px;"><text x="548.73" y="2146.50" textLength="18.43" lengthAdjust="spacingAndGlyphs">−1</text></g>
<g style="font-size:13.90px;"><text x="548.82" y="2201.00" textLength="18.43" lengthAdjust="spacingAndGlyphs">−2</text></g>
<g style="font-size:24.00px;"><text x="583.25" y="1869.70" textLength="15.91" lengthAdjust="spacingAndGlyphs">2</text><text x="607.10" y="1869.70" textLength="141.43" lengthAdjust="spacingAndGlyphs">component</text><text x="756.48" y="1869.70" textLength="49.63" lengthAdjust="spacingAndGlyphs">PCA</text><text x="814.06" y="1869.70" textLength="9.02" lengthAdjust="spacingAndGlyphs">-</text><text x="831.03" y="1869.70" textLength="67.20" lengthAdjust="spacingAndGlyphs">ATRC</text><text x="906.18" y="1869.70" textLength="9.02" lengthAdjust="spacingAndGlyphs">-</text><text x="923.14" y="1869.70" textLength="22.22" lengthAdjust="spacingAndGlyphs">Ti</text></g>
<g style="font-size:20.00px;"><text x="607.20" y="2272.70" textLength="80.87" lengthAdjust="spacingAndGlyphs">Principal</text><text x="694.08" y="2272.70" textLength="109.73" lengthAdjust="spacingAndGlyphs">Component</text><text x="809.81" y="2272.70" textLength="19.40" lengthAdjust="spacingAndGlyphs">1(</text><text x="835.22" y="2272.70" textLength="54.11" lengthAdjust="spacingAndGlyphs">29.81</text><text x="895.33" y="2272.70" textLength="25.33" lengthAdjust="spacingAndGlyphs">%)</text></g>
<g transform="translate(537.60,0) rotate(-90)" style="font-size:20.00px"><text x="-2210.60" y="0" textLength="80.87" lengthAdjust="spacingAndGlyphs">Principal</text><text x="-2123.72" y="0" textLength="109.73" lengthAdjust="spacingAndGlyphs">Component</text><text x="-2007.99" y="0" textLength="19.40" lengthAdjust="spacingAndGlyphs">2(</text><text x="-1982.58" y="0" textLength="54.11" lengthAdjust="spacingAndGlyphs">25.13</text><text x="-1922.47" y="0" textLength="25.33" lengthAdjust="spacingAndGlyphs">%)</text></g>
</svg></body></html>
